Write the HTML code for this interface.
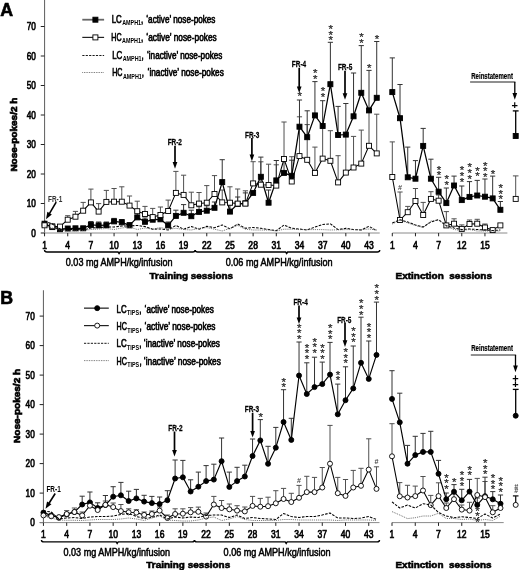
<!DOCTYPE html>
<html><head><meta charset="utf-8"><title>Figure</title>
<style>html,body{margin:0;padding:0;background:#fff}svg{display:block;will-change:transform;opacity:0.999}</style></head><body>
<svg width="520" height="570" viewBox="0 0 520 570" font-family="'Liberation Sans', sans-serif">
<rect width="520" height="570" fill="#fff"/>
<line x1="44.55" y1="0.00" x2="44.55" y2="233.50" stroke="#6a6a6a" stroke-width="1.1" />
<line x1="40.75" y1="233.00" x2="44.55" y2="233.00" stroke="#222" stroke-width="1.0" />
<text transform="translate(35.85,236.75) scale(0.73,1)" font-size="11.3" font-weight="normal" text-anchor="end" fill="#000" stroke="#000" stroke-width="0.7">0</text>
<line x1="40.75" y1="203.50" x2="44.55" y2="203.50" stroke="#222" stroke-width="1.0" />
<text transform="translate(35.85,207.25) scale(0.73,1)" font-size="11.3" font-weight="normal" text-anchor="end" fill="#000" stroke="#000" stroke-width="0.7">10</text>
<line x1="40.75" y1="174.00" x2="44.55" y2="174.00" stroke="#222" stroke-width="1.0" />
<text transform="translate(35.85,177.75) scale(0.73,1)" font-size="11.3" font-weight="normal" text-anchor="end" fill="#000" stroke="#000" stroke-width="0.7">20</text>
<line x1="40.75" y1="144.50" x2="44.55" y2="144.50" stroke="#222" stroke-width="1.0" />
<text transform="translate(35.85,148.25) scale(0.73,1)" font-size="11.3" font-weight="normal" text-anchor="end" fill="#000" stroke="#000" stroke-width="0.7">30</text>
<line x1="40.75" y1="115.00" x2="44.55" y2="115.00" stroke="#222" stroke-width="1.0" />
<text transform="translate(35.85,118.75) scale(0.73,1)" font-size="11.3" font-weight="normal" text-anchor="end" fill="#000" stroke="#000" stroke-width="0.7">40</text>
<line x1="40.75" y1="85.50" x2="44.55" y2="85.50" stroke="#222" stroke-width="1.0" />
<text transform="translate(35.85,89.25) scale(0.73,1)" font-size="11.3" font-weight="normal" text-anchor="end" fill="#000" stroke="#000" stroke-width="0.7">50</text>
<line x1="40.75" y1="56.00" x2="44.55" y2="56.00" stroke="#222" stroke-width="1.0" />
<text transform="translate(35.85,59.75) scale(0.73,1)" font-size="11.3" font-weight="normal" text-anchor="end" fill="#000" stroke="#000" stroke-width="0.7">60</text>
<line x1="40.75" y1="26.50" x2="44.55" y2="26.50" stroke="#222" stroke-width="1.0" />
<text transform="translate(35.85,30.25) scale(0.73,1)" font-size="11.3" font-weight="normal" text-anchor="end" fill="#000" stroke="#000" stroke-width="0.7">70</text>
<line x1="41.15" y1="233.00" x2="379.73" y2="233.00" stroke="#8a8a8a" stroke-width="1.0" />
<line x1="392.30" y1="233.00" x2="507.38" y2="233.00" stroke="#8a8a8a" stroke-width="1.0" />
<line x1="44.55" y1="233.00" x2="44.55" y2="236.30" stroke="#222" stroke-width="1.0" />
<text transform="translate(44.55,248.50) scale(0.76,1)" font-size="11.3" font-weight="normal" text-anchor="middle" fill="#000" stroke="#000" stroke-width="0.7">1</text>
<line x1="67.72" y1="233.00" x2="67.72" y2="236.30" stroke="#222" stroke-width="1.0" />
<text transform="translate(67.72,248.50) scale(0.76,1)" font-size="11.3" font-weight="normal" text-anchor="middle" fill="#000" stroke="#000" stroke-width="0.7">4</text>
<line x1="90.90" y1="233.00" x2="90.90" y2="236.30" stroke="#222" stroke-width="1.0" />
<text transform="translate(90.90,248.50) scale(0.76,1)" font-size="11.3" font-weight="normal" text-anchor="middle" fill="#000" stroke="#000" stroke-width="0.7">7</text>
<line x1="114.07" y1="233.00" x2="114.07" y2="236.30" stroke="#222" stroke-width="1.0" />
<text transform="translate(114.07,248.50) scale(0.76,1)" font-size="11.3" font-weight="normal" text-anchor="middle" fill="#000" stroke="#000" stroke-width="0.7">10</text>
<line x1="137.25" y1="233.00" x2="137.25" y2="236.30" stroke="#222" stroke-width="1.0" />
<text transform="translate(137.25,248.50) scale(0.76,1)" font-size="11.3" font-weight="normal" text-anchor="middle" fill="#000" stroke="#000" stroke-width="0.7">13</text>
<line x1="160.43" y1="233.00" x2="160.43" y2="236.30" stroke="#222" stroke-width="1.0" />
<text transform="translate(160.43,248.50) scale(0.76,1)" font-size="11.3" font-weight="normal" text-anchor="middle" fill="#000" stroke="#000" stroke-width="0.7">16</text>
<line x1="183.60" y1="233.00" x2="183.60" y2="236.30" stroke="#222" stroke-width="1.0" />
<text transform="translate(183.60,248.50) scale(0.76,1)" font-size="11.3" font-weight="normal" text-anchor="middle" fill="#000" stroke="#000" stroke-width="0.7">19</text>
<line x1="206.77" y1="233.00" x2="206.77" y2="236.30" stroke="#222" stroke-width="1.0" />
<text transform="translate(206.77,248.50) scale(0.76,1)" font-size="11.3" font-weight="normal" text-anchor="middle" fill="#000" stroke="#000" stroke-width="0.7">22</text>
<line x1="229.95" y1="233.00" x2="229.95" y2="236.30" stroke="#222" stroke-width="1.0" />
<text transform="translate(229.95,248.50) scale(0.76,1)" font-size="11.3" font-weight="normal" text-anchor="middle" fill="#000" stroke="#000" stroke-width="0.7">25</text>
<line x1="253.12" y1="233.00" x2="253.12" y2="236.30" stroke="#222" stroke-width="1.0" />
<text transform="translate(253.12,248.50) scale(0.76,1)" font-size="11.3" font-weight="normal" text-anchor="middle" fill="#000" stroke="#000" stroke-width="0.7">28</text>
<line x1="276.30" y1="233.00" x2="276.30" y2="236.30" stroke="#222" stroke-width="1.0" />
<text transform="translate(276.30,248.50) scale(0.76,1)" font-size="11.3" font-weight="normal" text-anchor="middle" fill="#000" stroke="#000" stroke-width="0.7">31</text>
<line x1="299.47" y1="233.00" x2="299.47" y2="236.30" stroke="#222" stroke-width="1.0" />
<text transform="translate(299.47,248.50) scale(0.76,1)" font-size="11.3" font-weight="normal" text-anchor="middle" fill="#000" stroke="#000" stroke-width="0.7">34</text>
<line x1="322.65" y1="233.00" x2="322.65" y2="236.30" stroke="#222" stroke-width="1.0" />
<text transform="translate(322.65,248.50) scale(0.76,1)" font-size="11.3" font-weight="normal" text-anchor="middle" fill="#000" stroke="#000" stroke-width="0.7">37</text>
<line x1="345.82" y1="233.00" x2="345.82" y2="236.30" stroke="#222" stroke-width="1.0" />
<text transform="translate(345.82,248.50) scale(0.76,1)" font-size="11.3" font-weight="normal" text-anchor="middle" fill="#000" stroke="#000" stroke-width="0.7">40</text>
<line x1="369.00" y1="233.00" x2="369.00" y2="236.30" stroke="#222" stroke-width="1.0" />
<text transform="translate(369.00,248.50) scale(0.76,1)" font-size="11.3" font-weight="normal" text-anchor="middle" fill="#000" stroke="#000" stroke-width="0.7">43</text>
<line x1="392.30" y1="233.00" x2="392.30" y2="236.30" stroke="#222" stroke-width="1.0" />
<text transform="translate(392.30,248.50) scale(0.76,1)" font-size="11.3" font-weight="normal" text-anchor="middle" fill="#000" stroke="#000" stroke-width="0.7">1</text>
<line x1="415.46" y1="233.00" x2="415.46" y2="236.30" stroke="#222" stroke-width="1.0" />
<text transform="translate(415.46,248.50) scale(0.76,1)" font-size="11.3" font-weight="normal" text-anchor="middle" fill="#000" stroke="#000" stroke-width="0.7">4</text>
<line x1="438.62" y1="233.00" x2="438.62" y2="236.30" stroke="#222" stroke-width="1.0" />
<text transform="translate(438.62,248.50) scale(0.76,1)" font-size="11.3" font-weight="normal" text-anchor="middle" fill="#000" stroke="#000" stroke-width="0.7">7</text>
<line x1="461.78" y1="233.00" x2="461.78" y2="236.30" stroke="#222" stroke-width="1.0" />
<text transform="translate(461.78,248.50) scale(0.76,1)" font-size="11.3" font-weight="normal" text-anchor="middle" fill="#000" stroke="#000" stroke-width="0.7">12</text>
<line x1="484.94" y1="233.00" x2="484.94" y2="236.30" stroke="#222" stroke-width="1.0" />
<text transform="translate(484.94,248.50) scale(0.76,1)" font-size="11.3" font-weight="normal" text-anchor="middle" fill="#000" stroke="#000" stroke-width="0.7">15</text>
<path d="M44.55,250.00 Q44.55,252.00 47.05,252.00 L118.07,252.00 L119.07,253.50 L120.07,252.00 L192.69,252.00 Q195.19,252.00 195.19,250.00" fill="none" stroke="#000" stroke-width="1.4"/>
<path d="M195.19,250.00 Q195.19,252.00 197.69,252.00 L285.66,252.00 L286.66,253.50 L287.66,252.00 L377.23,252.00 Q379.73,252.00 379.73,250.00" fill="none" stroke="#000" stroke-width="1.4"/>
<text transform="translate(65.80,265.90) scale(0.8805601317957167,1)" font-size="10.3" font-weight="normal" text-anchor="start" fill="#000" stroke="#000" stroke-width="0.5">0.03 mg AMPH/kg/infusion</text>
<text transform="translate(225.70,265.90) scale(0.8822075782537067,1)" font-size="10.3" font-weight="normal" text-anchor="start" fill="#000" stroke="#000" stroke-width="0.5">0.06 mg AMPH/kg/infusion</text>
<text transform="translate(149.60,278.60) scale(1.1220234091214853,1)" font-size="8.8" font-weight="bold" text-anchor="start" fill="#000" stroke="#000" stroke-width="0.55">Training sessions</text>
<text transform="translate(395.50,278.60) scale(1.1352685391937947,1)" font-size="8.8" font-weight="bold" text-anchor="start" fill="#000" stroke="#000" stroke-width="0.55">Extinction&#160; sessions</text>
<text transform="translate(16.90,134.60) rotate(-90) scale(1.14,1)" font-size="8.8" font-weight="bold" text-anchor="middle" fill="#000" stroke="#000" stroke-width="0.65">Nose-pokes/2 h</text>
<text transform="translate(0.30,15.50) scale(1.0,1)" font-size="17.8" font-weight="bold" text-anchor="start" fill="#000" stroke="#000" stroke-width="0.6">A</text>
<line x1="67.72" y1="219.70" x2="67.72" y2="215.70" stroke="#505050" stroke-width="1.0" />
<line x1="65.12" y1="215.70" x2="70.32" y2="215.70" stroke="#505050" stroke-width="1.0" />
<line x1="75.45" y1="216.70" x2="75.45" y2="211.40" stroke="#505050" stroke-width="1.0" />
<line x1="72.85" y1="211.40" x2="78.05" y2="211.40" stroke="#505050" stroke-width="1.0" />
<line x1="83.17" y1="210.70" x2="83.17" y2="202.40" stroke="#505050" stroke-width="1.0" />
<line x1="80.58" y1="202.40" x2="85.77" y2="202.40" stroke="#505050" stroke-width="1.0" />
<line x1="90.90" y1="202.40" x2="90.90" y2="189.10" stroke="#505050" stroke-width="1.0" />
<line x1="88.30" y1="189.10" x2="93.50" y2="189.10" stroke="#505050" stroke-width="1.0" />
<line x1="98.62" y1="211.60" x2="98.62" y2="203.60" stroke="#505050" stroke-width="1.0" />
<line x1="96.03" y1="203.60" x2="101.22" y2="203.60" stroke="#505050" stroke-width="1.0" />
<line x1="106.35" y1="201.90" x2="106.35" y2="190.40" stroke="#505050" stroke-width="1.0" />
<line x1="103.75" y1="190.40" x2="108.95" y2="190.40" stroke="#505050" stroke-width="1.0" />
<line x1="114.07" y1="201.70" x2="114.07" y2="188.50" stroke="#505050" stroke-width="1.0" />
<line x1="111.47" y1="188.50" x2="116.67" y2="188.50" stroke="#505050" stroke-width="1.0" />
<line x1="121.80" y1="201.70" x2="121.80" y2="186.80" stroke="#505050" stroke-width="1.0" />
<line x1="119.20" y1="186.80" x2="124.40" y2="186.80" stroke="#505050" stroke-width="1.0" />
<line x1="129.52" y1="205.60" x2="129.52" y2="196.00" stroke="#505050" stroke-width="1.0" />
<line x1="126.92" y1="196.00" x2="132.12" y2="196.00" stroke="#505050" stroke-width="1.0" />
<line x1="137.25" y1="211.20" x2="137.25" y2="201.20" stroke="#505050" stroke-width="1.0" />
<line x1="134.65" y1="201.20" x2="139.85" y2="201.20" stroke="#505050" stroke-width="1.0" />
<line x1="144.97" y1="214.00" x2="144.97" y2="206.40" stroke="#505050" stroke-width="1.0" />
<line x1="142.38" y1="206.40" x2="147.57" y2="206.40" stroke="#505050" stroke-width="1.0" />
<line x1="152.70" y1="217.10" x2="152.70" y2="208.40" stroke="#505050" stroke-width="1.0" />
<line x1="150.10" y1="208.40" x2="155.30" y2="208.40" stroke="#505050" stroke-width="1.0" />
<line x1="160.43" y1="215.00" x2="160.43" y2="207.00" stroke="#505050" stroke-width="1.0" />
<line x1="157.83" y1="207.00" x2="163.03" y2="207.00" stroke="#505050" stroke-width="1.0" />
<line x1="168.15" y1="211.00" x2="168.15" y2="200.10" stroke="#505050" stroke-width="1.0" />
<line x1="165.55" y1="200.10" x2="170.75" y2="200.10" stroke="#505050" stroke-width="1.0" />
<line x1="175.88" y1="192.90" x2="175.88" y2="171.40" stroke="#505050" stroke-width="1.0" />
<line x1="173.28" y1="171.40" x2="178.47" y2="171.40" stroke="#505050" stroke-width="1.0" />
<line x1="183.60" y1="194.90" x2="183.60" y2="175.20" stroke="#505050" stroke-width="1.0" />
<line x1="181.00" y1="175.20" x2="186.20" y2="175.20" stroke="#505050" stroke-width="1.0" />
<line x1="191.32" y1="205.30" x2="191.32" y2="192.20" stroke="#505050" stroke-width="1.0" />
<line x1="188.72" y1="192.20" x2="193.92" y2="192.20" stroke="#505050" stroke-width="1.0" />
<line x1="199.05" y1="203.60" x2="199.05" y2="192.50" stroke="#505050" stroke-width="1.0" />
<line x1="196.45" y1="192.50" x2="201.65" y2="192.50" stroke="#505050" stroke-width="1.0" />
<line x1="206.77" y1="202.70" x2="206.77" y2="185.60" stroke="#505050" stroke-width="1.0" />
<line x1="204.17" y1="185.60" x2="209.37" y2="185.60" stroke="#505050" stroke-width="1.0" />
<line x1="214.50" y1="194.00" x2="214.50" y2="175.60" stroke="#505050" stroke-width="1.0" />
<line x1="211.90" y1="175.60" x2="217.10" y2="175.60" stroke="#505050" stroke-width="1.0" />
<line x1="222.22" y1="202.40" x2="222.22" y2="190.00" stroke="#505050" stroke-width="1.0" />
<line x1="219.62" y1="190.00" x2="224.82" y2="190.00" stroke="#505050" stroke-width="1.0" />
<line x1="229.95" y1="202.70" x2="229.95" y2="186.80" stroke="#505050" stroke-width="1.0" />
<line x1="227.35" y1="186.80" x2="232.55" y2="186.80" stroke="#505050" stroke-width="1.0" />
<line x1="237.68" y1="203.60" x2="237.68" y2="189.00" stroke="#505050" stroke-width="1.0" />
<line x1="235.08" y1="189.00" x2="240.28" y2="189.00" stroke="#505050" stroke-width="1.0" />
<line x1="245.40" y1="203.60" x2="245.40" y2="190.80" stroke="#505050" stroke-width="1.0" />
<line x1="242.80" y1="190.80" x2="248.00" y2="190.80" stroke="#505050" stroke-width="1.0" />
<line x1="253.12" y1="183.40" x2="253.12" y2="161.70" stroke="#505050" stroke-width="1.0" />
<line x1="250.53" y1="161.70" x2="255.72" y2="161.70" stroke="#505050" stroke-width="1.0" />
<line x1="260.85" y1="184.70" x2="260.85" y2="161.80" stroke="#505050" stroke-width="1.0" />
<line x1="258.25" y1="161.80" x2="263.45" y2="161.80" stroke="#505050" stroke-width="1.0" />
<line x1="268.57" y1="185.00" x2="268.57" y2="164.20" stroke="#505050" stroke-width="1.0" />
<line x1="265.97" y1="164.20" x2="271.18" y2="164.20" stroke="#505050" stroke-width="1.0" />
<line x1="276.30" y1="185.60" x2="276.30" y2="164.80" stroke="#505050" stroke-width="1.0" />
<line x1="273.70" y1="164.80" x2="278.90" y2="164.80" stroke="#505050" stroke-width="1.0" />
<line x1="284.02" y1="159.00" x2="284.02" y2="122.00" stroke="#505050" stroke-width="1.0" />
<line x1="281.42" y1="122.00" x2="286.62" y2="122.00" stroke="#505050" stroke-width="1.0" />
<line x1="291.75" y1="181.50" x2="291.75" y2="156.70" stroke="#505050" stroke-width="1.0" />
<line x1="289.15" y1="156.70" x2="294.35" y2="156.70" stroke="#505050" stroke-width="1.0" />
<line x1="299.47" y1="156.10" x2="299.47" y2="116.80" stroke="#505050" stroke-width="1.0" />
<line x1="296.87" y1="116.80" x2="302.07" y2="116.80" stroke="#505050" stroke-width="1.0" />
<line x1="307.20" y1="159.80" x2="307.20" y2="124.60" stroke="#505050" stroke-width="1.0" />
<line x1="304.60" y1="124.60" x2="309.80" y2="124.60" stroke="#505050" stroke-width="1.0" />
<line x1="314.93" y1="172.90" x2="314.93" y2="147.10" stroke="#505050" stroke-width="1.0" />
<line x1="312.32" y1="147.10" x2="317.53" y2="147.10" stroke="#505050" stroke-width="1.0" />
<line x1="322.65" y1="158.60" x2="322.65" y2="126.00" stroke="#505050" stroke-width="1.0" />
<line x1="320.05" y1="126.00" x2="325.25" y2="126.00" stroke="#505050" stroke-width="1.0" />
<line x1="330.38" y1="160.80" x2="330.38" y2="130.70" stroke="#505050" stroke-width="1.0" />
<line x1="327.77" y1="130.70" x2="332.98" y2="130.70" stroke="#505050" stroke-width="1.0" />
<line x1="338.10" y1="182.40" x2="338.10" y2="155.70" stroke="#505050" stroke-width="1.0" />
<line x1="335.50" y1="155.70" x2="340.70" y2="155.70" stroke="#505050" stroke-width="1.0" />
<line x1="345.82" y1="172.60" x2="345.82" y2="134.00" stroke="#505050" stroke-width="1.0" />
<line x1="343.22" y1="134.00" x2="348.43" y2="134.00" stroke="#505050" stroke-width="1.0" />
<line x1="353.55" y1="167.50" x2="353.55" y2="136.40" stroke="#505050" stroke-width="1.0" />
<line x1="350.95" y1="136.40" x2="356.15" y2="136.40" stroke="#505050" stroke-width="1.0" />
<line x1="361.27" y1="163.60" x2="361.27" y2="130.10" stroke="#505050" stroke-width="1.0" />
<line x1="358.67" y1="130.10" x2="363.88" y2="130.10" stroke="#505050" stroke-width="1.0" />
<line x1="369.00" y1="145.80" x2="369.00" y2="112.00" stroke="#505050" stroke-width="1.0" />
<line x1="366.40" y1="112.00" x2="371.60" y2="112.00" stroke="#505050" stroke-width="1.0" />
<line x1="376.73" y1="153.40" x2="376.73" y2="114.20" stroke="#505050" stroke-width="1.0" />
<line x1="374.12" y1="114.20" x2="379.33" y2="114.20" stroke="#505050" stroke-width="1.0" />
<line x1="392.30" y1="177.00" x2="392.30" y2="141.90" stroke="#505050" stroke-width="1.0" />
<line x1="389.70" y1="141.90" x2="394.90" y2="141.90" stroke="#505050" stroke-width="1.0" />
<line x1="400.02" y1="220.00" x2="400.02" y2="192.00" stroke="#505050" stroke-width="1.0" />
<line x1="397.42" y1="192.00" x2="402.62" y2="192.00" stroke="#505050" stroke-width="1.0" />
<line x1="407.74" y1="212.20" x2="407.74" y2="206.40" stroke="#505050" stroke-width="1.0" />
<line x1="405.14" y1="206.40" x2="410.34" y2="206.40" stroke="#505050" stroke-width="1.0" />
<line x1="415.46" y1="201.00" x2="415.46" y2="188.50" stroke="#505050" stroke-width="1.0" />
<line x1="412.86" y1="188.50" x2="418.06" y2="188.50" stroke="#505050" stroke-width="1.0" />
<line x1="423.18" y1="215.00" x2="423.18" y2="202.40" stroke="#505050" stroke-width="1.0" />
<line x1="420.58" y1="202.40" x2="425.78" y2="202.40" stroke="#505050" stroke-width="1.0" />
<line x1="430.90" y1="198.90" x2="430.90" y2="191.70" stroke="#505050" stroke-width="1.0" />
<line x1="428.30" y1="191.70" x2="433.50" y2="191.70" stroke="#505050" stroke-width="1.0" />
<line x1="438.62" y1="200.70" x2="438.62" y2="195.00" stroke="#505050" stroke-width="1.0" />
<line x1="436.02" y1="195.00" x2="441.22" y2="195.00" stroke="#505050" stroke-width="1.0" />
<line x1="446.34" y1="225.40" x2="446.34" y2="211.60" stroke="#505050" stroke-width="1.0" />
<line x1="443.74" y1="211.60" x2="448.94" y2="211.60" stroke="#505050" stroke-width="1.0" />
<line x1="454.06" y1="223.70" x2="454.06" y2="218.80" stroke="#505050" stroke-width="1.0" />
<line x1="451.46" y1="218.80" x2="456.66" y2="218.80" stroke="#505050" stroke-width="1.0" />
<line x1="461.78" y1="228.90" x2="461.78" y2="224.90" stroke="#505050" stroke-width="1.0" />
<line x1="459.18" y1="224.90" x2="464.38" y2="224.90" stroke="#505050" stroke-width="1.0" />
<line x1="469.50" y1="224.00" x2="469.50" y2="220.00" stroke="#505050" stroke-width="1.0" />
<line x1="466.90" y1="220.00" x2="472.10" y2="220.00" stroke="#505050" stroke-width="1.0" />
<line x1="477.22" y1="223.70" x2="477.22" y2="219.30" stroke="#505050" stroke-width="1.0" />
<line x1="474.62" y1="219.30" x2="479.82" y2="219.30" stroke="#505050" stroke-width="1.0" />
<line x1="484.94" y1="227.50" x2="484.94" y2="224.00" stroke="#505050" stroke-width="1.0" />
<line x1="482.34" y1="224.00" x2="487.54" y2="224.00" stroke="#505050" stroke-width="1.0" />
<line x1="515.70" y1="198.90" x2="515.70" y2="175.90" stroke="#505050" stroke-width="1.0" />
<line x1="512.90" y1="175.90" x2="518.50" y2="175.90" stroke="#505050" stroke-width="1.0" />
<line x1="90.90" y1="224.90" x2="90.90" y2="221.50" stroke="#333" stroke-width="1.0" />
<line x1="88.30" y1="221.50" x2="93.50" y2="221.50" stroke="#333" stroke-width="1.0" />
<line x1="98.62" y1="225.40" x2="98.62" y2="222.00" stroke="#333" stroke-width="1.0" />
<line x1="96.03" y1="222.00" x2="101.22" y2="222.00" stroke="#333" stroke-width="1.0" />
<line x1="106.35" y1="225.20" x2="106.35" y2="222.00" stroke="#333" stroke-width="1.0" />
<line x1="103.75" y1="222.00" x2="108.95" y2="222.00" stroke="#333" stroke-width="1.0" />
<line x1="114.07" y1="221.40" x2="114.07" y2="218.40" stroke="#333" stroke-width="1.0" />
<line x1="111.47" y1="218.40" x2="116.67" y2="218.40" stroke="#333" stroke-width="1.0" />
<line x1="121.80" y1="222.30" x2="121.80" y2="219.50" stroke="#333" stroke-width="1.0" />
<line x1="119.20" y1="219.50" x2="124.40" y2="219.50" stroke="#333" stroke-width="1.0" />
<line x1="129.52" y1="225.40" x2="129.52" y2="222.50" stroke="#333" stroke-width="1.0" />
<line x1="126.92" y1="222.50" x2="132.12" y2="222.50" stroke="#333" stroke-width="1.0" />
<line x1="137.25" y1="217.40" x2="137.25" y2="212.00" stroke="#333" stroke-width="1.0" />
<line x1="134.65" y1="212.00" x2="139.85" y2="212.00" stroke="#333" stroke-width="1.0" />
<line x1="144.97" y1="221.80" x2="144.97" y2="218.00" stroke="#333" stroke-width="1.0" />
<line x1="142.38" y1="218.00" x2="147.57" y2="218.00" stroke="#333" stroke-width="1.0" />
<line x1="152.70" y1="219.70" x2="152.70" y2="216.00" stroke="#333" stroke-width="1.0" />
<line x1="150.10" y1="216.00" x2="155.30" y2="216.00" stroke="#333" stroke-width="1.0" />
<line x1="160.43" y1="219.30" x2="160.43" y2="216.00" stroke="#333" stroke-width="1.0" />
<line x1="157.83" y1="216.00" x2="163.03" y2="216.00" stroke="#333" stroke-width="1.0" />
<line x1="168.15" y1="225.40" x2="168.15" y2="222.00" stroke="#333" stroke-width="1.0" />
<line x1="165.55" y1="222.00" x2="170.75" y2="222.00" stroke="#333" stroke-width="1.0" />
<line x1="175.88" y1="215.90" x2="175.88" y2="210.20" stroke="#333" stroke-width="1.0" />
<line x1="173.28" y1="210.20" x2="178.47" y2="210.20" stroke="#333" stroke-width="1.0" />
<line x1="183.60" y1="212.80" x2="183.60" y2="204.60" stroke="#333" stroke-width="1.0" />
<line x1="181.00" y1="204.60" x2="186.20" y2="204.60" stroke="#333" stroke-width="1.0" />
<line x1="191.32" y1="216.20" x2="191.32" y2="210.20" stroke="#333" stroke-width="1.0" />
<line x1="188.72" y1="210.20" x2="193.92" y2="210.20" stroke="#333" stroke-width="1.0" />
<line x1="199.05" y1="211.90" x2="199.05" y2="206.70" stroke="#333" stroke-width="1.0" />
<line x1="196.45" y1="206.70" x2="201.65" y2="206.70" stroke="#333" stroke-width="1.0" />
<line x1="206.77" y1="210.70" x2="206.77" y2="205.80" stroke="#333" stroke-width="1.0" />
<line x1="204.17" y1="205.80" x2="209.37" y2="205.80" stroke="#333" stroke-width="1.0" />
<line x1="214.50" y1="207.80" x2="214.50" y2="202.00" stroke="#333" stroke-width="1.0" />
<line x1="211.90" y1="202.00" x2="217.10" y2="202.00" stroke="#333" stroke-width="1.0" />
<line x1="222.22" y1="182.10" x2="222.22" y2="159.70" stroke="#333" stroke-width="1.0" />
<line x1="219.62" y1="159.70" x2="224.82" y2="159.70" stroke="#333" stroke-width="1.0" />
<line x1="229.95" y1="211.60" x2="229.95" y2="205.00" stroke="#333" stroke-width="1.0" />
<line x1="227.35" y1="205.00" x2="232.55" y2="205.00" stroke="#333" stroke-width="1.0" />
<line x1="237.68" y1="204.00" x2="237.68" y2="197.00" stroke="#333" stroke-width="1.0" />
<line x1="235.08" y1="197.00" x2="240.28" y2="197.00" stroke="#333" stroke-width="1.0" />
<line x1="245.40" y1="203.30" x2="245.40" y2="192.90" stroke="#333" stroke-width="1.0" />
<line x1="242.80" y1="192.90" x2="248.00" y2="192.90" stroke="#333" stroke-width="1.0" />
<line x1="260.85" y1="176.80" x2="260.85" y2="157.10" stroke="#333" stroke-width="1.0" />
<line x1="258.25" y1="157.10" x2="263.45" y2="157.10" stroke="#333" stroke-width="1.0" />
<line x1="268.57" y1="202.70" x2="268.57" y2="190.00" stroke="#333" stroke-width="1.0" />
<line x1="265.97" y1="190.00" x2="271.18" y2="190.00" stroke="#333" stroke-width="1.0" />
<line x1="276.30" y1="180.40" x2="276.30" y2="160.50" stroke="#333" stroke-width="1.0" />
<line x1="273.70" y1="160.50" x2="278.90" y2="160.50" stroke="#333" stroke-width="1.0" />
<line x1="284.02" y1="172.90" x2="284.02" y2="160.00" stroke="#333" stroke-width="1.0" />
<line x1="281.42" y1="160.00" x2="286.62" y2="160.00" stroke="#333" stroke-width="1.0" />
<line x1="291.75" y1="175.80" x2="291.75" y2="160.20" stroke="#333" stroke-width="1.0" />
<line x1="289.15" y1="160.20" x2="294.35" y2="160.20" stroke="#333" stroke-width="1.0" />
<line x1="299.47" y1="126.70" x2="299.47" y2="100.00" stroke="#333" stroke-width="1.0" />
<line x1="296.87" y1="100.00" x2="302.07" y2="100.00" stroke="#333" stroke-width="1.0" />
<line x1="307.20" y1="137.20" x2="307.20" y2="110.80" stroke="#333" stroke-width="1.0" />
<line x1="304.60" y1="110.80" x2="309.80" y2="110.80" stroke="#333" stroke-width="1.0" />
<line x1="314.93" y1="115.40" x2="314.93" y2="81.60" stroke="#333" stroke-width="1.0" />
<line x1="312.32" y1="81.60" x2="317.53" y2="81.60" stroke="#333" stroke-width="1.0" />
<line x1="322.65" y1="126.00" x2="322.65" y2="100.70" stroke="#333" stroke-width="1.0" />
<line x1="320.05" y1="100.70" x2="325.25" y2="100.70" stroke="#333" stroke-width="1.0" />
<line x1="330.38" y1="84.20" x2="330.38" y2="42.30" stroke="#333" stroke-width="1.0" />
<line x1="327.77" y1="42.30" x2="332.98" y2="42.30" stroke="#333" stroke-width="1.0" />
<line x1="338.10" y1="135.00" x2="338.10" y2="106.40" stroke="#333" stroke-width="1.0" />
<line x1="335.50" y1="106.40" x2="340.70" y2="106.40" stroke="#333" stroke-width="1.0" />
<line x1="345.82" y1="134.60" x2="345.82" y2="103.50" stroke="#333" stroke-width="1.0" />
<line x1="343.22" y1="103.50" x2="348.43" y2="103.50" stroke="#333" stroke-width="1.0" />
<line x1="353.55" y1="116.30" x2="353.55" y2="73.00" stroke="#333" stroke-width="1.0" />
<line x1="350.95" y1="73.00" x2="356.15" y2="73.00" stroke="#333" stroke-width="1.0" />
<line x1="361.27" y1="92.80" x2="361.27" y2="45.60" stroke="#333" stroke-width="1.0" />
<line x1="358.67" y1="45.60" x2="363.88" y2="45.60" stroke="#333" stroke-width="1.0" />
<line x1="369.00" y1="110.40" x2="369.00" y2="70.40" stroke="#333" stroke-width="1.0" />
<line x1="366.40" y1="70.40" x2="371.60" y2="70.40" stroke="#333" stroke-width="1.0" />
<line x1="376.73" y1="97.80" x2="376.73" y2="41.50" stroke="#333" stroke-width="1.0" />
<line x1="374.12" y1="41.50" x2="379.33" y2="41.50" stroke="#333" stroke-width="1.0" />
<line x1="392.30" y1="92.10" x2="392.30" y2="57.90" stroke="#333" stroke-width="1.0" />
<line x1="389.70" y1="57.90" x2="394.90" y2="57.90" stroke="#333" stroke-width="1.0" />
<line x1="400.02" y1="118.20" x2="400.02" y2="84.50" stroke="#333" stroke-width="1.0" />
<line x1="397.42" y1="84.50" x2="402.62" y2="84.50" stroke="#333" stroke-width="1.0" />
<line x1="407.74" y1="177.30" x2="407.74" y2="147.10" stroke="#333" stroke-width="1.0" />
<line x1="405.14" y1="147.10" x2="410.34" y2="147.10" stroke="#333" stroke-width="1.0" />
<line x1="415.46" y1="178.70" x2="415.46" y2="160.60" stroke="#333" stroke-width="1.0" />
<line x1="412.86" y1="160.60" x2="418.06" y2="160.60" stroke="#333" stroke-width="1.0" />
<line x1="423.18" y1="145.90" x2="423.18" y2="128.40" stroke="#333" stroke-width="1.0" />
<line x1="420.58" y1="128.40" x2="425.78" y2="128.40" stroke="#333" stroke-width="1.0" />
<line x1="430.90" y1="178.70" x2="430.90" y2="159.20" stroke="#333" stroke-width="1.0" />
<line x1="428.30" y1="159.20" x2="433.50" y2="159.20" stroke="#333" stroke-width="1.0" />
<line x1="438.62" y1="191.70" x2="438.62" y2="177.30" stroke="#333" stroke-width="1.0" />
<line x1="436.02" y1="177.30" x2="441.22" y2="177.30" stroke="#333" stroke-width="1.0" />
<line x1="446.34" y1="203.10" x2="446.34" y2="188.00" stroke="#333" stroke-width="1.0" />
<line x1="443.74" y1="188.00" x2="448.94" y2="188.00" stroke="#333" stroke-width="1.0" />
<line x1="454.06" y1="185.50" x2="454.06" y2="176.10" stroke="#333" stroke-width="1.0" />
<line x1="451.46" y1="176.10" x2="456.66" y2="176.10" stroke="#333" stroke-width="1.0" />
<line x1="461.78" y1="200.10" x2="461.78" y2="186.00" stroke="#333" stroke-width="1.0" />
<line x1="459.18" y1="186.00" x2="464.38" y2="186.00" stroke="#333" stroke-width="1.0" />
<line x1="469.50" y1="196.90" x2="469.50" y2="181.60" stroke="#333" stroke-width="1.0" />
<line x1="466.90" y1="181.60" x2="472.10" y2="181.60" stroke="#333" stroke-width="1.0" />
<line x1="477.22" y1="195.50" x2="477.22" y2="180.40" stroke="#333" stroke-width="1.0" />
<line x1="474.62" y1="180.40" x2="479.82" y2="180.40" stroke="#333" stroke-width="1.0" />
<line x1="484.94" y1="196.70" x2="484.94" y2="179.00" stroke="#333" stroke-width="1.0" />
<line x1="482.34" y1="179.00" x2="487.54" y2="179.00" stroke="#333" stroke-width="1.0" />
<line x1="492.66" y1="198.40" x2="492.66" y2="176.10" stroke="#333" stroke-width="1.0" />
<line x1="490.06" y1="176.10" x2="495.26" y2="176.10" stroke="#333" stroke-width="1.0" />
<line x1="500.38" y1="209.80" x2="500.38" y2="201.50" stroke="#333" stroke-width="1.0" />
<line x1="497.78" y1="201.50" x2="502.98" y2="201.50" stroke="#333" stroke-width="1.0" />
<line x1="515.70" y1="136.00" x2="515.70" y2="110.90" stroke="#000" stroke-width="1.3" />
<line x1="512.80" y1="110.90" x2="518.60" y2="110.90" stroke="#000" stroke-width="1.3" />
<polyline points="44.55,225.30 52.27,226.30 60.00,226.60 67.72,219.70 75.45,216.70 83.17,210.70 90.90,202.40 98.62,211.60 106.35,201.90 114.07,201.70 121.80,201.70 129.52,205.60 137.25,211.20 144.97,214.00 152.70,217.10 160.43,215.00 168.15,211.00 175.88,192.90 183.60,194.90 191.32,205.30 199.05,203.60 206.77,202.70 214.50,194.00 222.22,202.40 229.95,202.70 237.68,203.60 245.40,203.60 253.12,183.40 260.85,184.70 268.57,185.00 276.30,185.60 284.02,159.00 291.75,181.50 299.47,156.10 307.20,159.80 314.93,172.90 322.65,158.60 330.38,160.80 338.10,182.40 345.82,172.60 353.55,167.50 361.27,163.60 369.00,145.80 376.73,153.40" fill="none" stroke="#000" stroke-width="1.05" stroke-linejoin="round" />
<polyline points="392.30,177.00 400.02,220.00 407.74,212.20 415.46,201.00 423.18,215.00 430.90,198.90 438.62,200.70 446.34,225.40 454.06,223.70 461.78,228.90 469.50,224.00 477.22,223.70 484.94,227.50 492.66,230.10 500.38,225.40" fill="none" stroke="#000" stroke-width="1.05" stroke-linejoin="round" />
<polyline points="44.55,223.70 52.27,227.10 60.00,229.20 67.72,228.50 75.45,228.30 83.17,228.30 90.90,224.90 98.62,225.40 106.35,225.20 114.07,221.40 121.80,222.30 129.52,225.40 137.25,217.40 144.97,221.80 152.70,219.70 160.43,219.30 168.15,225.40 175.88,215.90 183.60,212.80 191.32,216.20 199.05,211.90 206.77,210.70 214.50,207.80 222.22,182.10 229.95,211.60 237.68,204.00 245.40,203.30 253.12,192.90 260.85,176.80 268.57,202.70 276.30,180.40 284.02,172.90 291.75,175.80 299.47,126.70 307.20,137.20 314.93,115.40 322.65,126.00 330.38,84.20 338.10,135.00 345.82,134.60 353.55,116.30 361.27,92.80 369.00,110.40 376.73,97.80" fill="none" stroke="#000" stroke-width="1.25" stroke-linejoin="round" />
<polyline points="392.30,92.10 400.02,118.20 407.74,177.30 415.46,178.70 423.18,145.90 430.90,178.70 438.62,191.70 446.34,203.10 454.06,185.50 461.78,200.10 469.50,196.90 477.22,195.50 484.94,196.70 492.66,198.40 500.38,209.80" fill="none" stroke="#000" stroke-width="1.25" stroke-linejoin="round" />
<rect x="42.05" y="221.20" width="5.0" height="5.0" fill="#000" stroke="#000" stroke-width="0.9"/>
<rect x="49.77" y="224.60" width="5.0" height="5.0" fill="#000" stroke="#000" stroke-width="0.9"/>
<rect x="57.50" y="226.70" width="5.0" height="5.0" fill="#000" stroke="#000" stroke-width="0.9"/>
<rect x="65.22" y="226.00" width="5.0" height="5.0" fill="#000" stroke="#000" stroke-width="0.9"/>
<rect x="72.95" y="225.80" width="5.0" height="5.0" fill="#000" stroke="#000" stroke-width="0.9"/>
<rect x="80.67" y="225.80" width="5.0" height="5.0" fill="#000" stroke="#000" stroke-width="0.9"/>
<rect x="88.40" y="222.40" width="5.0" height="5.0" fill="#000" stroke="#000" stroke-width="0.9"/>
<rect x="96.12" y="222.90" width="5.0" height="5.0" fill="#000" stroke="#000" stroke-width="0.9"/>
<rect x="103.85" y="222.70" width="5.0" height="5.0" fill="#000" stroke="#000" stroke-width="0.9"/>
<rect x="111.57" y="218.90" width="5.0" height="5.0" fill="#000" stroke="#000" stroke-width="0.9"/>
<rect x="119.30" y="219.80" width="5.0" height="5.0" fill="#000" stroke="#000" stroke-width="0.9"/>
<rect x="127.02" y="222.90" width="5.0" height="5.0" fill="#000" stroke="#000" stroke-width="0.9"/>
<rect x="134.75" y="214.90" width="5.0" height="5.0" fill="#000" stroke="#000" stroke-width="0.9"/>
<rect x="142.47" y="219.30" width="5.0" height="5.0" fill="#000" stroke="#000" stroke-width="0.9"/>
<rect x="150.20" y="217.20" width="5.0" height="5.0" fill="#000" stroke="#000" stroke-width="0.9"/>
<rect x="157.93" y="216.80" width="5.0" height="5.0" fill="#000" stroke="#000" stroke-width="0.9"/>
<rect x="165.65" y="222.90" width="5.0" height="5.0" fill="#000" stroke="#000" stroke-width="0.9"/>
<rect x="173.38" y="213.40" width="5.0" height="5.0" fill="#000" stroke="#000" stroke-width="0.9"/>
<rect x="181.10" y="210.30" width="5.0" height="5.0" fill="#000" stroke="#000" stroke-width="0.9"/>
<rect x="188.82" y="213.70" width="5.0" height="5.0" fill="#000" stroke="#000" stroke-width="0.9"/>
<rect x="196.55" y="209.40" width="5.0" height="5.0" fill="#000" stroke="#000" stroke-width="0.9"/>
<rect x="204.27" y="208.20" width="5.0" height="5.0" fill="#000" stroke="#000" stroke-width="0.9"/>
<rect x="212.00" y="205.30" width="5.0" height="5.0" fill="#000" stroke="#000" stroke-width="0.9"/>
<rect x="219.72" y="179.60" width="5.0" height="5.0" fill="#000" stroke="#000" stroke-width="0.9"/>
<rect x="227.45" y="209.10" width="5.0" height="5.0" fill="#000" stroke="#000" stroke-width="0.9"/>
<rect x="235.18" y="201.50" width="5.0" height="5.0" fill="#000" stroke="#000" stroke-width="0.9"/>
<rect x="242.90" y="200.80" width="5.0" height="5.0" fill="#000" stroke="#000" stroke-width="0.9"/>
<rect x="250.62" y="190.40" width="5.0" height="5.0" fill="#000" stroke="#000" stroke-width="0.9"/>
<rect x="258.35" y="174.30" width="5.0" height="5.0" fill="#000" stroke="#000" stroke-width="0.9"/>
<rect x="266.07" y="200.20" width="5.0" height="5.0" fill="#000" stroke="#000" stroke-width="0.9"/>
<rect x="273.80" y="177.90" width="5.0" height="5.0" fill="#000" stroke="#000" stroke-width="0.9"/>
<rect x="281.52" y="170.40" width="5.0" height="5.0" fill="#000" stroke="#000" stroke-width="0.9"/>
<rect x="289.25" y="173.30" width="5.0" height="5.0" fill="#000" stroke="#000" stroke-width="0.9"/>
<rect x="296.97" y="124.20" width="5.0" height="5.0" fill="#000" stroke="#000" stroke-width="0.9"/>
<rect x="304.70" y="134.70" width="5.0" height="5.0" fill="#000" stroke="#000" stroke-width="0.9"/>
<rect x="312.43" y="112.90" width="5.0" height="5.0" fill="#000" stroke="#000" stroke-width="0.9"/>
<rect x="320.15" y="123.50" width="5.0" height="5.0" fill="#000" stroke="#000" stroke-width="0.9"/>
<rect x="327.88" y="81.70" width="5.0" height="5.0" fill="#000" stroke="#000" stroke-width="0.9"/>
<rect x="335.60" y="132.50" width="5.0" height="5.0" fill="#000" stroke="#000" stroke-width="0.9"/>
<rect x="343.32" y="132.10" width="5.0" height="5.0" fill="#000" stroke="#000" stroke-width="0.9"/>
<rect x="351.05" y="113.80" width="5.0" height="5.0" fill="#000" stroke="#000" stroke-width="0.9"/>
<rect x="358.77" y="90.30" width="5.0" height="5.0" fill="#000" stroke="#000" stroke-width="0.9"/>
<rect x="366.50" y="107.90" width="5.0" height="5.0" fill="#000" stroke="#000" stroke-width="0.9"/>
<rect x="374.23" y="95.30" width="5.0" height="5.0" fill="#000" stroke="#000" stroke-width="0.9"/>
<rect x="389.80" y="89.60" width="5.0" height="5.0" fill="#000" stroke="#000" stroke-width="0.9"/>
<rect x="397.52" y="115.70" width="5.0" height="5.0" fill="#000" stroke="#000" stroke-width="0.9"/>
<rect x="405.24" y="174.80" width="5.0" height="5.0" fill="#000" stroke="#000" stroke-width="0.9"/>
<rect x="412.96" y="176.20" width="5.0" height="5.0" fill="#000" stroke="#000" stroke-width="0.9"/>
<rect x="420.68" y="143.40" width="5.0" height="5.0" fill="#000" stroke="#000" stroke-width="0.9"/>
<rect x="428.40" y="176.20" width="5.0" height="5.0" fill="#000" stroke="#000" stroke-width="0.9"/>
<rect x="436.12" y="189.20" width="5.0" height="5.0" fill="#000" stroke="#000" stroke-width="0.9"/>
<rect x="443.84" y="200.60" width="5.0" height="5.0" fill="#000" stroke="#000" stroke-width="0.9"/>
<rect x="451.56" y="183.00" width="5.0" height="5.0" fill="#000" stroke="#000" stroke-width="0.9"/>
<rect x="459.28" y="197.60" width="5.0" height="5.0" fill="#000" stroke="#000" stroke-width="0.9"/>
<rect x="467.00" y="194.40" width="5.0" height="5.0" fill="#000" stroke="#000" stroke-width="0.9"/>
<rect x="474.72" y="193.00" width="5.0" height="5.0" fill="#000" stroke="#000" stroke-width="0.9"/>
<rect x="482.44" y="194.20" width="5.0" height="5.0" fill="#000" stroke="#000" stroke-width="0.9"/>
<rect x="490.16" y="195.90" width="5.0" height="5.0" fill="#000" stroke="#000" stroke-width="0.9"/>
<rect x="497.88" y="207.30" width="5.0" height="5.0" fill="#000" stroke="#000" stroke-width="0.9"/>
<rect x="513.20" y="133.50" width="5.0" height="5.0" fill="#000" stroke="#000" stroke-width="0.9"/>
<rect x="42.05" y="222.80" width="5.0" height="5.0" fill="#fff" stroke="#000" stroke-width="0.9"/>
<rect x="49.77" y="223.80" width="5.0" height="5.0" fill="#fff" stroke="#000" stroke-width="0.9"/>
<rect x="57.50" y="224.10" width="5.0" height="5.0" fill="#fff" stroke="#000" stroke-width="0.9"/>
<rect x="65.22" y="217.20" width="5.0" height="5.0" fill="#fff" stroke="#000" stroke-width="0.9"/>
<rect x="72.95" y="214.20" width="5.0" height="5.0" fill="#fff" stroke="#000" stroke-width="0.9"/>
<rect x="80.67" y="208.20" width="5.0" height="5.0" fill="#fff" stroke="#000" stroke-width="0.9"/>
<rect x="88.40" y="199.90" width="5.0" height="5.0" fill="#fff" stroke="#000" stroke-width="0.9"/>
<rect x="96.12" y="209.10" width="5.0" height="5.0" fill="#fff" stroke="#000" stroke-width="0.9"/>
<rect x="103.85" y="199.40" width="5.0" height="5.0" fill="#fff" stroke="#000" stroke-width="0.9"/>
<rect x="111.57" y="199.20" width="5.0" height="5.0" fill="#fff" stroke="#000" stroke-width="0.9"/>
<rect x="119.30" y="199.20" width="5.0" height="5.0" fill="#fff" stroke="#000" stroke-width="0.9"/>
<rect x="127.02" y="203.10" width="5.0" height="5.0" fill="#fff" stroke="#000" stroke-width="0.9"/>
<rect x="134.75" y="208.70" width="5.0" height="5.0" fill="#fff" stroke="#000" stroke-width="0.9"/>
<rect x="142.47" y="211.50" width="5.0" height="5.0" fill="#fff" stroke="#000" stroke-width="0.9"/>
<rect x="150.20" y="214.60" width="5.0" height="5.0" fill="#fff" stroke="#000" stroke-width="0.9"/>
<rect x="157.93" y="212.50" width="5.0" height="5.0" fill="#fff" stroke="#000" stroke-width="0.9"/>
<rect x="165.65" y="208.50" width="5.0" height="5.0" fill="#fff" stroke="#000" stroke-width="0.9"/>
<rect x="173.38" y="190.40" width="5.0" height="5.0" fill="#fff" stroke="#000" stroke-width="0.9"/>
<rect x="181.10" y="192.40" width="5.0" height="5.0" fill="#fff" stroke="#000" stroke-width="0.9"/>
<rect x="188.82" y="202.80" width="5.0" height="5.0" fill="#fff" stroke="#000" stroke-width="0.9"/>
<rect x="196.55" y="201.10" width="5.0" height="5.0" fill="#fff" stroke="#000" stroke-width="0.9"/>
<rect x="204.27" y="200.20" width="5.0" height="5.0" fill="#fff" stroke="#000" stroke-width="0.9"/>
<rect x="212.00" y="191.50" width="5.0" height="5.0" fill="#fff" stroke="#000" stroke-width="0.9"/>
<rect x="219.72" y="199.90" width="5.0" height="5.0" fill="#fff" stroke="#000" stroke-width="0.9"/>
<rect x="227.45" y="200.20" width="5.0" height="5.0" fill="#fff" stroke="#000" stroke-width="0.9"/>
<rect x="235.18" y="201.10" width="5.0" height="5.0" fill="#fff" stroke="#000" stroke-width="0.9"/>
<rect x="242.90" y="201.10" width="5.0" height="5.0" fill="#fff" stroke="#000" stroke-width="0.9"/>
<rect x="250.62" y="180.90" width="5.0" height="5.0" fill="#fff" stroke="#000" stroke-width="0.9"/>
<rect x="258.35" y="182.20" width="5.0" height="5.0" fill="#fff" stroke="#000" stroke-width="0.9"/>
<rect x="266.07" y="182.50" width="5.0" height="5.0" fill="#fff" stroke="#000" stroke-width="0.9"/>
<rect x="273.80" y="183.10" width="5.0" height="5.0" fill="#fff" stroke="#000" stroke-width="0.9"/>
<rect x="281.52" y="156.50" width="5.0" height="5.0" fill="#fff" stroke="#000" stroke-width="0.9"/>
<rect x="289.25" y="179.00" width="5.0" height="5.0" fill="#fff" stroke="#000" stroke-width="0.9"/>
<rect x="296.97" y="153.60" width="5.0" height="5.0" fill="#fff" stroke="#000" stroke-width="0.9"/>
<rect x="304.70" y="157.30" width="5.0" height="5.0" fill="#fff" stroke="#000" stroke-width="0.9"/>
<rect x="312.43" y="170.40" width="5.0" height="5.0" fill="#fff" stroke="#000" stroke-width="0.9"/>
<rect x="320.15" y="156.10" width="5.0" height="5.0" fill="#fff" stroke="#000" stroke-width="0.9"/>
<rect x="327.88" y="158.30" width="5.0" height="5.0" fill="#fff" stroke="#000" stroke-width="0.9"/>
<rect x="335.60" y="179.90" width="5.0" height="5.0" fill="#fff" stroke="#000" stroke-width="0.9"/>
<rect x="343.32" y="170.10" width="5.0" height="5.0" fill="#fff" stroke="#000" stroke-width="0.9"/>
<rect x="351.05" y="165.00" width="5.0" height="5.0" fill="#fff" stroke="#000" stroke-width="0.9"/>
<rect x="358.77" y="161.10" width="5.0" height="5.0" fill="#fff" stroke="#000" stroke-width="0.9"/>
<rect x="366.50" y="143.30" width="5.0" height="5.0" fill="#fff" stroke="#000" stroke-width="0.9"/>
<rect x="374.23" y="150.90" width="5.0" height="5.0" fill="#fff" stroke="#000" stroke-width="0.9"/>
<rect x="389.80" y="174.50" width="5.0" height="5.0" fill="#fff" stroke="#000" stroke-width="0.9"/>
<rect x="397.52" y="217.50" width="5.0" height="5.0" fill="#fff" stroke="#000" stroke-width="0.9"/>
<rect x="405.24" y="209.70" width="5.0" height="5.0" fill="#fff" stroke="#000" stroke-width="0.9"/>
<rect x="412.96" y="198.50" width="5.0" height="5.0" fill="#fff" stroke="#000" stroke-width="0.9"/>
<rect x="420.68" y="212.50" width="5.0" height="5.0" fill="#fff" stroke="#000" stroke-width="0.9"/>
<rect x="428.40" y="196.40" width="5.0" height="5.0" fill="#fff" stroke="#000" stroke-width="0.9"/>
<rect x="436.12" y="198.20" width="5.0" height="5.0" fill="#fff" stroke="#000" stroke-width="0.9"/>
<rect x="443.84" y="222.90" width="5.0" height="5.0" fill="#fff" stroke="#000" stroke-width="0.9"/>
<rect x="451.56" y="221.20" width="5.0" height="5.0" fill="#fff" stroke="#000" stroke-width="0.9"/>
<rect x="459.28" y="226.40" width="5.0" height="5.0" fill="#fff" stroke="#000" stroke-width="0.9"/>
<rect x="467.00" y="221.50" width="5.0" height="5.0" fill="#fff" stroke="#000" stroke-width="0.9"/>
<rect x="474.72" y="221.20" width="5.0" height="5.0" fill="#fff" stroke="#000" stroke-width="0.9"/>
<rect x="482.44" y="225.00" width="5.0" height="5.0" fill="#fff" stroke="#000" stroke-width="0.9"/>
<rect x="490.16" y="227.60" width="5.0" height="5.0" fill="#fff" stroke="#000" stroke-width="0.9"/>
<rect x="497.88" y="222.90" width="5.0" height="5.0" fill="#fff" stroke="#000" stroke-width="0.9"/>
<rect x="513.20" y="196.40" width="5.0" height="5.0" fill="#fff" stroke="#000" stroke-width="0.9"/>
<polyline points="44.55,221.00 52.27,224.00 60.00,229.00 67.72,229.50 75.45,229.50 83.17,230.00 90.90,228.00 98.62,227.50 106.35,227.00 114.07,227.00 121.80,226.00 129.52,226.00 137.25,225.40 144.97,226.60 152.70,229.20 160.43,228.90 168.15,230.00 175.88,225.40 183.60,229.20 191.32,226.60 199.05,229.20 206.77,226.30 214.50,227.80 222.22,224.90 229.95,228.90 237.68,224.00 245.40,228.30 253.12,227.50 260.85,228.30 268.57,229.50 276.30,230.70 284.02,225.00 291.75,228.30 299.47,229.00 307.20,230.00 314.93,227.00 322.65,224.50 330.38,223.80 338.10,229.60 345.82,228.30 353.55,229.60 361.27,230.00 369.00,226.30 376.73,230.80" fill="none" stroke="#000" stroke-width="1.05" stroke-linejoin="round" stroke-dasharray="2.6 1.3"/>
<polyline points="44.55,226.00 52.27,228.00 60.00,230.00 67.72,231.00 75.45,231.00 83.17,230.50 90.90,229.50 98.62,229.00 106.35,228.50 114.07,229.50 121.80,228.00 129.52,227.00 137.25,229.50 144.97,228.00 152.70,229.20 160.43,227.50 168.15,229.20 175.88,228.30 183.60,229.50 191.32,230.00 199.05,228.30 206.77,227.60 214.50,229.20 222.22,231.00 229.95,228.30 237.68,225.40 245.40,229.20 253.12,230.00 260.85,230.00 268.57,230.00 276.30,231.00 284.02,229.20 291.75,229.20 299.47,229.60 307.20,229.60 314.93,229.60 322.65,229.60 330.38,230.00 338.10,229.80 345.82,229.60 353.55,229.60 361.27,229.60 369.00,229.00 376.73,230.00" fill="none" stroke="#555" stroke-width="0.9" stroke-linejoin="round" stroke-dasharray="0.9 1.0"/>
<polyline points="392.30,223.00 400.02,219.70 407.74,222.00 415.46,225.00 423.18,227.00 430.90,222.00 438.62,219.70 446.34,225.70 454.06,228.00 461.78,229.50 469.50,229.00 477.22,229.50 484.94,230.00 492.66,230.50 500.38,230.00" fill="none" stroke="#000" stroke-width="1.05" stroke-linejoin="round" stroke-dasharray="2.6 1.3"/>
<polyline points="392.30,224.00 400.02,220.00 407.74,223.00 415.46,225.50 423.18,227.50 430.90,221.00 438.62,220.00 446.34,226.50 454.06,229.50 461.78,230.50 469.50,229.50 477.22,231.00 484.94,231.00 492.66,231.00 500.38,231.00" fill="none" stroke="#555" stroke-width="0.9" stroke-linejoin="round" stroke-dasharray="0.9 1.0"/>
<text transform="translate(299.77,99.55) scale(1.0,1)" font-size="11.5" font-weight="normal" text-anchor="middle" fill="#2a2a2a" stroke="#2a2a2a" stroke-width="0.25">*</text>
<text transform="translate(315.23,77.45) scale(1.0,1)" font-size="11.5" font-weight="normal" text-anchor="middle" fill="#2a2a2a" stroke="#2a2a2a" stroke-width="0.25">*</text>
<text transform="translate(315.23,83.05) scale(1.0,1)" font-size="11.5" font-weight="normal" text-anchor="middle" fill="#2a2a2a" stroke="#2a2a2a" stroke-width="0.25">*</text>
<text transform="translate(322.95,95.45) scale(1.0,1)" font-size="11.5" font-weight="normal" text-anchor="middle" fill="#2a2a2a" stroke="#2a2a2a" stroke-width="0.25">*</text>
<text transform="translate(322.95,100.95) scale(1.0,1)" font-size="11.5" font-weight="normal" text-anchor="middle" fill="#2a2a2a" stroke="#2a2a2a" stroke-width="0.25">*</text>
<text transform="translate(330.68,33.25) scale(1.0,1)" font-size="11.5" font-weight="normal" text-anchor="middle" fill="#2a2a2a" stroke="#2a2a2a" stroke-width="0.25">*</text>
<text transform="translate(330.68,38.55) scale(1.0,1)" font-size="11.5" font-weight="normal" text-anchor="middle" fill="#2a2a2a" stroke="#2a2a2a" stroke-width="0.25">*</text>
<text transform="translate(330.68,44.15) scale(1.0,1)" font-size="11.5" font-weight="normal" text-anchor="middle" fill="#2a2a2a" stroke="#2a2a2a" stroke-width="0.25">*</text>
<text transform="translate(361.57,41.15) scale(1.0,1)" font-size="11.5" font-weight="normal" text-anchor="middle" fill="#2a2a2a" stroke="#2a2a2a" stroke-width="0.25">*</text>
<text transform="translate(361.57,46.75) scale(1.0,1)" font-size="11.5" font-weight="normal" text-anchor="middle" fill="#2a2a2a" stroke="#2a2a2a" stroke-width="0.25">*</text>
<text transform="translate(369.30,72.15) scale(1.0,1)" font-size="11.5" font-weight="normal" text-anchor="middle" fill="#2a2a2a" stroke="#2a2a2a" stroke-width="0.25">*</text>
<text transform="translate(377.03,43.25) scale(1.0,1)" font-size="11.5" font-weight="normal" text-anchor="middle" fill="#2a2a2a" stroke="#2a2a2a" stroke-width="0.25">*</text>
<text transform="translate(438.92,173.55) scale(1.0,1)" font-size="11.5" font-weight="normal" text-anchor="middle" fill="#2a2a2a" stroke="#2a2a2a" stroke-width="0.25">*</text>
<text transform="translate(438.92,179.25) scale(1.0,1)" font-size="11.5" font-weight="normal" text-anchor="middle" fill="#2a2a2a" stroke="#2a2a2a" stroke-width="0.25">*</text>
<text transform="translate(446.64,183.05) scale(1.0,1)" font-size="11.5" font-weight="normal" text-anchor="middle" fill="#2a2a2a" stroke="#2a2a2a" stroke-width="0.25">*</text>
<text transform="translate(446.64,188.55) scale(1.0,1)" font-size="11.5" font-weight="normal" text-anchor="middle" fill="#2a2a2a" stroke="#2a2a2a" stroke-width="0.25">*</text>
<text transform="translate(462.08,174.45) scale(1.0,1)" font-size="11.5" font-weight="normal" text-anchor="middle" fill="#2a2a2a" stroke="#2a2a2a" stroke-width="0.25">*</text>
<text transform="translate(462.08,180.45) scale(1.0,1)" font-size="11.5" font-weight="normal" text-anchor="middle" fill="#2a2a2a" stroke="#2a2a2a" stroke-width="0.25">*</text>
<text transform="translate(462.08,186.15) scale(1.0,1)" font-size="11.5" font-weight="normal" text-anchor="middle" fill="#2a2a2a" stroke="#2a2a2a" stroke-width="0.25">*</text>
<text transform="translate(469.80,171.25) scale(1.0,1)" font-size="11.5" font-weight="normal" text-anchor="middle" fill="#2a2a2a" stroke="#2a2a2a" stroke-width="0.25">*</text>
<text transform="translate(469.80,176.95) scale(1.0,1)" font-size="11.5" font-weight="normal" text-anchor="middle" fill="#2a2a2a" stroke="#2a2a2a" stroke-width="0.25">*</text>
<text transform="translate(469.80,182.75) scale(1.0,1)" font-size="11.5" font-weight="normal" text-anchor="middle" fill="#2a2a2a" stroke="#2a2a2a" stroke-width="0.25">*</text>
<text transform="translate(477.52,174.75) scale(1.0,1)" font-size="11.5" font-weight="normal" text-anchor="middle" fill="#2a2a2a" stroke="#2a2a2a" stroke-width="0.25">*</text>
<text transform="translate(477.52,180.45) scale(1.0,1)" font-size="11.5" font-weight="normal" text-anchor="middle" fill="#2a2a2a" stroke="#2a2a2a" stroke-width="0.25">*</text>
<text transform="translate(485.24,169.55) scale(1.0,1)" font-size="11.5" font-weight="normal" text-anchor="middle" fill="#2a2a2a" stroke="#2a2a2a" stroke-width="0.25">*</text>
<text transform="translate(485.24,175.25) scale(1.0,1)" font-size="11.5" font-weight="normal" text-anchor="middle" fill="#2a2a2a" stroke="#2a2a2a" stroke-width="0.25">*</text>
<text transform="translate(485.24,180.95) scale(1.0,1)" font-size="11.5" font-weight="normal" text-anchor="middle" fill="#2a2a2a" stroke="#2a2a2a" stroke-width="0.25">*</text>
<text transform="translate(492.96,177.55) scale(1.0,1)" font-size="11.5" font-weight="normal" text-anchor="middle" fill="#2a2a2a" stroke="#2a2a2a" stroke-width="0.25">*</text>
<text transform="translate(500.68,192.05) scale(1.0,1)" font-size="11.5" font-weight="normal" text-anchor="middle" fill="#2a2a2a" stroke="#2a2a2a" stroke-width="0.25">*</text>
<text transform="translate(500.68,197.75) scale(1.0,1)" font-size="11.5" font-weight="normal" text-anchor="middle" fill="#2a2a2a" stroke="#2a2a2a" stroke-width="0.25">*</text>
<text transform="translate(500.68,203.25) scale(1.0,1)" font-size="11.5" font-weight="normal" text-anchor="middle" fill="#2a2a2a" stroke="#2a2a2a" stroke-width="0.25">*</text>
<text transform="translate(400.00,190.30) scale(0.95,1)" font-size="7.6" font-weight="bold" text-anchor="middle" fill="#4a4a4a" >#</text>
<text transform="translate(514.60,109.40) scale(1.0,1)" font-size="11" font-weight="bold" text-anchor="middle" fill="#000" >+</text>
<text transform="translate(174.80,145.10) scale(0.76,1)" font-size="8.5" font-weight="bold" text-anchor="middle" fill="#000" stroke="#000" stroke-width="0.25">FR-2</text>
<line x1="175.00" y1="145.70" x2="175.00" y2="163.10" stroke="#000" stroke-width="1.7" />
<polygon points="172.65,162.10 177.35,162.10 175.00,168.70" fill="#000"/>
<text transform="translate(252.20,138.30) scale(0.76,1)" font-size="8.5" font-weight="bold" text-anchor="middle" fill="#000" stroke="#000" stroke-width="0.25">FR-3</text>
<line x1="251.90" y1="138.00" x2="251.90" y2="155.60" stroke="#000" stroke-width="1.7" />
<polygon points="249.55,154.60 254.25,154.60 251.90,161.20" fill="#000"/>
<text transform="translate(299.00,67.10) scale(0.76,1)" font-size="8.5" font-weight="bold" text-anchor="middle" fill="#000" stroke="#000" stroke-width="0.25">FR-4</text>
<line x1="299.20" y1="67.80" x2="299.20" y2="87.50" stroke="#000" stroke-width="1.7" />
<polygon points="296.85,86.50 301.55,86.50 299.20,93.10" fill="#000"/>
<text transform="translate(345.10,69.70) scale(0.76,1)" font-size="8.5" font-weight="bold" text-anchor="middle" fill="#000" stroke="#000" stroke-width="0.25">FR-5</text>
<line x1="345.00" y1="70.70" x2="345.00" y2="94.20" stroke="#000" stroke-width="1.7" />
<polygon points="342.65,93.20 347.35,93.20 345.00,99.80" fill="#000"/>
<text transform="translate(55.20,201.60) scale(0.76,1)" font-size="8.5" font-weight="bold" text-anchor="middle" fill="#333" >FR-1</text>
<line x1="56.20" y1="202.20" x2="49.09" y2="214.06" stroke="#000" stroke-width="1.6" />
<polygon points="47.37,211.86 51.83,214.54 46.00,219.20" fill="#000"/>
<text transform="translate(471.20,79.10) scale(0.6894276760679531,1)" font-size="8.8" font-weight="bold" text-anchor="start" fill="#000" stroke="#000" stroke-width="0.2">Reinstatement</text>
<line x1="470.10" y1="82.00" x2="515.40" y2="82.00" stroke="#6a6a6a" stroke-width="1.4" />
<line x1="514.80" y1="82.00" x2="514.80" y2="94.10" stroke="#000" stroke-width="1.3" />
<polygon points="512.45,93.10 517.15,93.10 514.80,99.70" fill="#000"/>
<line x1="82.30" y1="19.70" x2="104.10" y2="19.70" stroke="#666" stroke-width="1.8" />
<rect x="92.90" y="17.20" width="5.0" height="5.0" fill="#000" stroke="#000" stroke-width="0.9"/>
<text transform="translate(111.70,22.65) scale(0.79,1)" font-size="10" font-weight="normal" text-anchor="start" fill="#000" stroke="#000" stroke-width="0.6">LC</text>
<text transform="translate(122.20,25.05) scale(0.82,1)" font-size="6.6" font-weight="bold" text-anchor="start" fill="#000" >AMPH1</text>
<text transform="translate(141.10,22.65) scale(0.8,1)" font-size="10" font-weight="normal" text-anchor="start" fill="#000" stroke="#000" stroke-width="0.6">,</text>
<text transform="translate(146.30,22.65) scale(0.8174386920980927,1)" font-size="10" font-weight="normal" text-anchor="start" fill="#000" stroke="#000" stroke-width="0.6">&#8216;active&#8217; nose-pokes</text>
<line x1="82.30" y1="37.40" x2="104.10" y2="37.40" stroke="#222" stroke-width="1.2" />
<rect x="92.90" y="34.90" width="5.0" height="5.0" fill="#fff" stroke="#000" stroke-width="0.9"/>
<text transform="translate(111.30,40.55) scale(0.715,1)" font-size="10" font-weight="normal" text-anchor="start" fill="#000" stroke="#000" stroke-width="0.6">HC</text>
<text transform="translate(122.02,42.95) scale(0.82,1)" font-size="6.6" font-weight="bold" text-anchor="start" fill="#000" >AMPH1</text>
<text transform="translate(140.92,40.55) scale(0.8,1)" font-size="10" font-weight="normal" text-anchor="start" fill="#000" stroke="#000" stroke-width="0.6">,</text>
<text transform="translate(146.30,40.55) scale(0.8328397109347232,1)" font-size="10" font-weight="normal" text-anchor="start" fill="#000" stroke="#000" stroke-width="0.6">&#8216;active&#8217; nose-pokes</text>
<line x1="82.30" y1="55.50" x2="104.10" y2="55.50" stroke="#000" stroke-width="0.9" stroke-dasharray="2.2 1.2"/>
<text transform="translate(112.20,58.55) scale(0.79,1)" font-size="10" font-weight="normal" text-anchor="start" fill="#000" stroke="#000" stroke-width="0.6">LC</text>
<text transform="translate(122.70,60.95) scale(0.82,1)" font-size="6.6" font-weight="bold" text-anchor="start" fill="#000" >AMPH1</text>
<text transform="translate(141.60,58.55) scale(0.8,1)" font-size="10" font-weight="normal" text-anchor="start" fill="#000" stroke="#000" stroke-width="0.6">,</text>
<text transform="translate(147.00,58.55) scale(0.8167028199566162,1)" font-size="10" font-weight="normal" text-anchor="start" fill="#000" stroke="#000" stroke-width="0.6">&#8216;inactive&#8217; nose-pokes</text>
<line x1="82.30" y1="72.50" x2="104.10" y2="72.50" stroke="#555" stroke-width="0.9" stroke-dasharray="0.8 0.9"/>
<text transform="translate(112.20,76.15) scale(0.715,1)" font-size="10" font-weight="normal" text-anchor="start" fill="#000" stroke="#000" stroke-width="0.6">HC</text>
<text transform="translate(122.92,78.55) scale(0.82,1)" font-size="6.6" font-weight="bold" text-anchor="start" fill="#000" >AMPH1</text>
<text transform="translate(141.82,76.15) scale(0.8,1)" font-size="10" font-weight="normal" text-anchor="start" fill="#000" stroke="#000" stroke-width="0.6">,</text>
<text transform="translate(147.60,76.15) scale(0.824295010845987,1)" font-size="10" font-weight="normal" text-anchor="start" fill="#000" stroke="#000" stroke-width="0.6">&#8216;inactive&#8217; nose-pokes</text>
<line x1="43.45" y1="290.30" x2="43.45" y2="523.10" stroke="#6a6a6a" stroke-width="1.1" />
<line x1="39.65" y1="522.60" x2="43.45" y2="522.60" stroke="#222" stroke-width="1.0" />
<text transform="translate(34.75,526.35) scale(0.73,1)" font-size="11.3" font-weight="normal" text-anchor="end" fill="#000" stroke="#000" stroke-width="0.7">0</text>
<line x1="39.65" y1="493.10" x2="43.45" y2="493.10" stroke="#222" stroke-width="1.0" />
<text transform="translate(34.75,496.85) scale(0.73,1)" font-size="11.3" font-weight="normal" text-anchor="end" fill="#000" stroke="#000" stroke-width="0.7">10</text>
<line x1="39.65" y1="463.60" x2="43.45" y2="463.60" stroke="#222" stroke-width="1.0" />
<text transform="translate(34.75,467.35) scale(0.73,1)" font-size="11.3" font-weight="normal" text-anchor="end" fill="#000" stroke="#000" stroke-width="0.7">20</text>
<line x1="39.65" y1="434.10" x2="43.45" y2="434.10" stroke="#222" stroke-width="1.0" />
<text transform="translate(34.75,437.85) scale(0.73,1)" font-size="11.3" font-weight="normal" text-anchor="end" fill="#000" stroke="#000" stroke-width="0.7">30</text>
<line x1="39.65" y1="404.60" x2="43.45" y2="404.60" stroke="#222" stroke-width="1.0" />
<text transform="translate(34.75,408.35) scale(0.73,1)" font-size="11.3" font-weight="normal" text-anchor="end" fill="#000" stroke="#000" stroke-width="0.7">40</text>
<line x1="39.65" y1="375.10" x2="43.45" y2="375.10" stroke="#222" stroke-width="1.0" />
<text transform="translate(34.75,378.85) scale(0.73,1)" font-size="11.3" font-weight="normal" text-anchor="end" fill="#000" stroke="#000" stroke-width="0.7">50</text>
<line x1="39.65" y1="345.60" x2="43.45" y2="345.60" stroke="#222" stroke-width="1.0" />
<text transform="translate(34.75,349.35) scale(0.73,1)" font-size="11.3" font-weight="normal" text-anchor="end" fill="#000" stroke="#000" stroke-width="0.7">60</text>
<line x1="39.65" y1="316.10" x2="43.45" y2="316.10" stroke="#222" stroke-width="1.0" />
<text transform="translate(34.75,319.85) scale(0.73,1)" font-size="11.3" font-weight="normal" text-anchor="end" fill="#000" stroke="#000" stroke-width="0.7">70</text>
<line x1="40.05" y1="522.60" x2="379.49" y2="522.60" stroke="#8a8a8a" stroke-width="1.0" />
<line x1="392.00" y1="522.60" x2="503.70" y2="522.60" stroke="#8a8a8a" stroke-width="1.0" />
<line x1="43.45" y1="522.60" x2="43.45" y2="525.90" stroke="#222" stroke-width="1.0" />
<text transform="translate(43.45,538.00) scale(0.76,1)" font-size="11.3" font-weight="normal" text-anchor="middle" fill="#000" stroke="#000" stroke-width="0.7">1</text>
<line x1="66.69" y1="522.60" x2="66.69" y2="525.90" stroke="#222" stroke-width="1.0" />
<text transform="translate(66.69,538.00) scale(0.76,1)" font-size="11.3" font-weight="normal" text-anchor="middle" fill="#000" stroke="#000" stroke-width="0.7">4</text>
<line x1="89.92" y1="522.60" x2="89.92" y2="525.90" stroke="#222" stroke-width="1.0" />
<text transform="translate(89.92,538.00) scale(0.76,1)" font-size="11.3" font-weight="normal" text-anchor="middle" fill="#000" stroke="#000" stroke-width="0.7">7</text>
<line x1="113.16" y1="522.60" x2="113.16" y2="525.90" stroke="#222" stroke-width="1.0" />
<text transform="translate(113.16,538.00) scale(0.76,1)" font-size="11.3" font-weight="normal" text-anchor="middle" fill="#000" stroke="#000" stroke-width="0.7">10</text>
<line x1="136.39" y1="522.60" x2="136.39" y2="525.90" stroke="#222" stroke-width="1.0" />
<text transform="translate(136.39,538.00) scale(0.76,1)" font-size="11.3" font-weight="normal" text-anchor="middle" fill="#000" stroke="#000" stroke-width="0.7">13</text>
<line x1="159.62" y1="522.60" x2="159.62" y2="525.90" stroke="#222" stroke-width="1.0" />
<text transform="translate(159.62,538.00) scale(0.76,1)" font-size="11.3" font-weight="normal" text-anchor="middle" fill="#000" stroke="#000" stroke-width="0.7">16</text>
<line x1="182.86" y1="522.60" x2="182.86" y2="525.90" stroke="#222" stroke-width="1.0" />
<text transform="translate(182.86,538.00) scale(0.76,1)" font-size="11.3" font-weight="normal" text-anchor="middle" fill="#000" stroke="#000" stroke-width="0.7">19</text>
<line x1="206.10" y1="522.60" x2="206.10" y2="525.90" stroke="#222" stroke-width="1.0" />
<text transform="translate(206.10,538.00) scale(0.76,1)" font-size="11.3" font-weight="normal" text-anchor="middle" fill="#000" stroke="#000" stroke-width="0.7">22</text>
<line x1="229.33" y1="522.60" x2="229.33" y2="525.90" stroke="#222" stroke-width="1.0" />
<text transform="translate(229.33,538.00) scale(0.76,1)" font-size="11.3" font-weight="normal" text-anchor="middle" fill="#000" stroke="#000" stroke-width="0.7">25</text>
<line x1="252.56" y1="522.60" x2="252.56" y2="525.90" stroke="#222" stroke-width="1.0" />
<text transform="translate(252.56,538.00) scale(0.76,1)" font-size="11.3" font-weight="normal" text-anchor="middle" fill="#000" stroke="#000" stroke-width="0.7">28</text>
<line x1="275.80" y1="522.60" x2="275.80" y2="525.90" stroke="#222" stroke-width="1.0" />
<text transform="translate(275.80,538.00) scale(0.76,1)" font-size="11.3" font-weight="normal" text-anchor="middle" fill="#000" stroke="#000" stroke-width="0.7">31</text>
<line x1="299.04" y1="522.60" x2="299.04" y2="525.90" stroke="#222" stroke-width="1.0" />
<text transform="translate(299.04,538.00) scale(0.76,1)" font-size="11.3" font-weight="normal" text-anchor="middle" fill="#000" stroke="#000" stroke-width="0.7">34</text>
<line x1="322.27" y1="522.60" x2="322.27" y2="525.90" stroke="#222" stroke-width="1.0" />
<text transform="translate(322.27,538.00) scale(0.76,1)" font-size="11.3" font-weight="normal" text-anchor="middle" fill="#000" stroke="#000" stroke-width="0.7">37</text>
<line x1="345.50" y1="522.60" x2="345.50" y2="525.90" stroke="#222" stroke-width="1.0" />
<text transform="translate(345.50,538.00) scale(0.76,1)" font-size="11.3" font-weight="normal" text-anchor="middle" fill="#000" stroke="#000" stroke-width="0.7">40</text>
<line x1="368.74" y1="522.60" x2="368.74" y2="525.90" stroke="#222" stroke-width="1.0" />
<text transform="translate(368.74,538.00) scale(0.76,1)" font-size="11.3" font-weight="normal" text-anchor="middle" fill="#000" stroke="#000" stroke-width="0.7">43</text>
<line x1="392.00" y1="522.60" x2="392.00" y2="525.90" stroke="#222" stroke-width="1.0" />
<text transform="translate(392.00,538.00) scale(0.76,1)" font-size="11.3" font-weight="normal" text-anchor="middle" fill="#000" stroke="#000" stroke-width="0.7">1</text>
<line x1="415.25" y1="522.60" x2="415.25" y2="525.90" stroke="#222" stroke-width="1.0" />
<text transform="translate(415.25,538.00) scale(0.76,1)" font-size="11.3" font-weight="normal" text-anchor="middle" fill="#000" stroke="#000" stroke-width="0.7">4</text>
<line x1="438.50" y1="522.60" x2="438.50" y2="525.90" stroke="#222" stroke-width="1.0" />
<text transform="translate(438.50,538.00) scale(0.76,1)" font-size="11.3" font-weight="normal" text-anchor="middle" fill="#000" stroke="#000" stroke-width="0.7">7</text>
<line x1="461.75" y1="522.60" x2="461.75" y2="525.90" stroke="#222" stroke-width="1.0" />
<text transform="translate(461.75,538.00) scale(0.76,1)" font-size="11.3" font-weight="normal" text-anchor="middle" fill="#000" stroke="#000" stroke-width="0.7">12</text>
<line x1="485.00" y1="522.60" x2="485.00" y2="525.90" stroke="#222" stroke-width="1.0" />
<text transform="translate(485.00,538.00) scale(0.76,1)" font-size="11.3" font-weight="normal" text-anchor="middle" fill="#000" stroke="#000" stroke-width="0.7">15</text>
<path d="M41.45,539.90 Q41.45,541.90 43.95,541.90 L116.16,541.90 L117.16,543.40 L118.16,541.90 L191.98,541.90 Q194.48,541.90 194.48,539.90" fill="none" stroke="#000" stroke-width="1.4"/>
<path d="M194.48,539.90 Q194.48,541.90 196.98,541.90 L285.18,541.90 L286.18,543.40 L287.18,541.90 L376.99,541.90 Q379.49,541.90 379.49,539.90" fill="none" stroke="#000" stroke-width="1.4"/>
<text transform="translate(63.50,556.10) scale(0.8797364085667215,1)" font-size="10.3" font-weight="normal" text-anchor="start" fill="#000" stroke="#000" stroke-width="0.5">0.03 mg AMPH/kg/infusion</text>
<text transform="translate(223.60,556.10) scale(0.8830313014827018,1)" font-size="10.3" font-weight="normal" text-anchor="start" fill="#000" stroke="#000" stroke-width="0.5">0.06 mg AMPH/kg/infusion</text>
<text transform="translate(146.30,567.80) scale(1.1314408717879725,1)" font-size="8.8" font-weight="bold" text-anchor="start" fill="#000" stroke="#000" stroke-width="0.55">Training sessions</text>
<text transform="translate(395.50,567.80) scale(1.1293924080385473,1)" font-size="8.8" font-weight="bold" text-anchor="start" fill="#000" stroke="#000" stroke-width="0.55">Extinction&#160; sessions</text>
<text transform="translate(19.70,405.90) rotate(-90) scale(1.14,1)" font-size="8.8" font-weight="bold" text-anchor="middle" fill="#000" stroke="#000" stroke-width="0.65">Nose-pokes/2 h</text>
<text transform="translate(0.30,304.00) scale(1.0,1)" font-size="17.8" font-weight="bold" text-anchor="start" fill="#000" stroke="#000" stroke-width="0.6">B</text>
<line x1="66.69" y1="514.00" x2="66.69" y2="510.60" stroke="#505050" stroke-width="1.0" />
<line x1="64.09" y1="510.60" x2="69.28" y2="510.60" stroke="#505050" stroke-width="1.0" />
<line x1="74.43" y1="512.00" x2="74.43" y2="508.00" stroke="#505050" stroke-width="1.0" />
<line x1="71.83" y1="508.00" x2="77.03" y2="508.00" stroke="#505050" stroke-width="1.0" />
<line x1="82.18" y1="515.40" x2="82.18" y2="512.00" stroke="#505050" stroke-width="1.0" />
<line x1="79.58" y1="512.00" x2="84.78" y2="512.00" stroke="#505050" stroke-width="1.0" />
<line x1="89.92" y1="505.70" x2="89.92" y2="502.00" stroke="#505050" stroke-width="1.0" />
<line x1="87.32" y1="502.00" x2="92.52" y2="502.00" stroke="#505050" stroke-width="1.0" />
<line x1="97.67" y1="510.00" x2="97.67" y2="507.00" stroke="#505050" stroke-width="1.0" />
<line x1="95.07" y1="507.00" x2="100.27" y2="507.00" stroke="#505050" stroke-width="1.0" />
<line x1="105.41" y1="504.80" x2="105.41" y2="501.00" stroke="#505050" stroke-width="1.0" />
<line x1="102.81" y1="501.00" x2="108.01" y2="501.00" stroke="#505050" stroke-width="1.0" />
<line x1="113.16" y1="507.10" x2="113.16" y2="503.00" stroke="#505050" stroke-width="1.0" />
<line x1="110.56" y1="503.00" x2="115.75" y2="503.00" stroke="#505050" stroke-width="1.0" />
<line x1="120.90" y1="511.10" x2="120.90" y2="504.50" stroke="#505050" stroke-width="1.0" />
<line x1="118.30" y1="504.50" x2="123.50" y2="504.50" stroke="#505050" stroke-width="1.0" />
<line x1="128.65" y1="512.30" x2="128.65" y2="508.80" stroke="#505050" stroke-width="1.0" />
<line x1="126.05" y1="508.80" x2="131.25" y2="508.80" stroke="#505050" stroke-width="1.0" />
<line x1="136.39" y1="512.60" x2="136.39" y2="509.70" stroke="#505050" stroke-width="1.0" />
<line x1="133.79" y1="509.70" x2="138.99" y2="509.70" stroke="#505050" stroke-width="1.0" />
<line x1="144.13" y1="514.90" x2="144.13" y2="512.00" stroke="#505050" stroke-width="1.0" />
<line x1="141.53" y1="512.00" x2="146.73" y2="512.00" stroke="#505050" stroke-width="1.0" />
<line x1="151.88" y1="514.00" x2="151.88" y2="511.00" stroke="#505050" stroke-width="1.0" />
<line x1="149.28" y1="511.00" x2="154.48" y2="511.00" stroke="#505050" stroke-width="1.0" />
<line x1="159.62" y1="510.60" x2="159.62" y2="507.00" stroke="#505050" stroke-width="1.0" />
<line x1="157.03" y1="507.00" x2="162.22" y2="507.00" stroke="#505050" stroke-width="1.0" />
<line x1="167.37" y1="518.00" x2="167.37" y2="515.00" stroke="#505050" stroke-width="1.0" />
<line x1="164.77" y1="515.00" x2="169.97" y2="515.00" stroke="#505050" stroke-width="1.0" />
<line x1="175.12" y1="514.00" x2="175.12" y2="508.80" stroke="#505050" stroke-width="1.0" />
<line x1="172.52" y1="508.80" x2="177.72" y2="508.80" stroke="#505050" stroke-width="1.0" />
<line x1="182.86" y1="513.70" x2="182.86" y2="508.80" stroke="#505050" stroke-width="1.0" />
<line x1="180.26" y1="508.80" x2="185.46" y2="508.80" stroke="#505050" stroke-width="1.0" />
<line x1="190.61" y1="512.30" x2="190.61" y2="507.60" stroke="#505050" stroke-width="1.0" />
<line x1="188.01" y1="507.60" x2="193.21" y2="507.60" stroke="#505050" stroke-width="1.0" />
<line x1="198.35" y1="511.80" x2="198.35" y2="507.10" stroke="#505050" stroke-width="1.0" />
<line x1="195.75" y1="507.10" x2="200.95" y2="507.10" stroke="#505050" stroke-width="1.0" />
<line x1="206.10" y1="516.60" x2="206.10" y2="513.00" stroke="#505050" stroke-width="1.0" />
<line x1="203.50" y1="513.00" x2="208.70" y2="513.00" stroke="#505050" stroke-width="1.0" />
<line x1="213.84" y1="504.50" x2="213.84" y2="496.40" stroke="#505050" stroke-width="1.0" />
<line x1="211.24" y1="496.40" x2="216.44" y2="496.40" stroke="#505050" stroke-width="1.0" />
<line x1="221.58" y1="508.00" x2="221.58" y2="500.50" stroke="#505050" stroke-width="1.0" />
<line x1="218.98" y1="500.50" x2="224.18" y2="500.50" stroke="#505050" stroke-width="1.0" />
<line x1="229.33" y1="509.30" x2="229.33" y2="504.00" stroke="#505050" stroke-width="1.0" />
<line x1="226.73" y1="504.00" x2="231.93" y2="504.00" stroke="#505050" stroke-width="1.0" />
<line x1="237.07" y1="510.60" x2="237.07" y2="505.70" stroke="#505050" stroke-width="1.0" />
<line x1="234.47" y1="505.70" x2="239.67" y2="505.70" stroke="#505050" stroke-width="1.0" />
<line x1="244.82" y1="511.40" x2="244.82" y2="507.00" stroke="#505050" stroke-width="1.0" />
<line x1="242.22" y1="507.00" x2="247.42" y2="507.00" stroke="#505050" stroke-width="1.0" />
<line x1="252.56" y1="505.90" x2="252.56" y2="496.40" stroke="#505050" stroke-width="1.0" />
<line x1="249.97" y1="496.40" x2="255.16" y2="496.40" stroke="#505050" stroke-width="1.0" />
<line x1="260.31" y1="506.70" x2="260.31" y2="498.40" stroke="#505050" stroke-width="1.0" />
<line x1="257.71" y1="498.40" x2="262.91" y2="498.40" stroke="#505050" stroke-width="1.0" />
<line x1="268.06" y1="506.20" x2="268.06" y2="497.20" stroke="#505050" stroke-width="1.0" />
<line x1="265.45" y1="497.20" x2="270.66" y2="497.20" stroke="#505050" stroke-width="1.0" />
<line x1="275.80" y1="503.30" x2="275.80" y2="490.70" stroke="#505050" stroke-width="1.0" />
<line x1="273.20" y1="490.70" x2="278.40" y2="490.70" stroke="#505050" stroke-width="1.0" />
<line x1="283.55" y1="499.00" x2="283.55" y2="488.40" stroke="#505050" stroke-width="1.0" />
<line x1="280.94" y1="488.40" x2="286.15" y2="488.40" stroke="#505050" stroke-width="1.0" />
<line x1="291.29" y1="502.00" x2="291.29" y2="493.30" stroke="#505050" stroke-width="1.0" />
<line x1="288.69" y1="493.30" x2="293.89" y2="493.30" stroke="#505050" stroke-width="1.0" />
<line x1="299.04" y1="497.80" x2="299.04" y2="485.40" stroke="#505050" stroke-width="1.0" />
<line x1="296.44" y1="485.40" x2="301.64" y2="485.40" stroke="#505050" stroke-width="1.0" />
<line x1="306.78" y1="492.10" x2="306.78" y2="476.30" stroke="#505050" stroke-width="1.0" />
<line x1="304.18" y1="476.30" x2="309.38" y2="476.30" stroke="#505050" stroke-width="1.0" />
<line x1="314.52" y1="492.10" x2="314.52" y2="477.40" stroke="#505050" stroke-width="1.0" />
<line x1="311.92" y1="477.40" x2="317.12" y2="477.40" stroke="#505050" stroke-width="1.0" />
<line x1="322.27" y1="487.50" x2="322.27" y2="467.50" stroke="#505050" stroke-width="1.0" />
<line x1="319.67" y1="467.50" x2="324.87" y2="467.50" stroke="#505050" stroke-width="1.0" />
<line x1="330.01" y1="463.70" x2="330.01" y2="425.40" stroke="#505050" stroke-width="1.0" />
<line x1="327.41" y1="425.40" x2="332.62" y2="425.40" stroke="#505050" stroke-width="1.0" />
<line x1="337.76" y1="493.20" x2="337.76" y2="477.40" stroke="#505050" stroke-width="1.0" />
<line x1="335.16" y1="477.40" x2="340.36" y2="477.40" stroke="#505050" stroke-width="1.0" />
<line x1="345.50" y1="495.90" x2="345.50" y2="479.50" stroke="#505050" stroke-width="1.0" />
<line x1="342.90" y1="479.50" x2="348.11" y2="479.50" stroke="#505050" stroke-width="1.0" />
<line x1="353.25" y1="487.50" x2="353.25" y2="470.40" stroke="#505050" stroke-width="1.0" />
<line x1="350.65" y1="470.40" x2="355.85" y2="470.40" stroke="#505050" stroke-width="1.0" />
<line x1="361.00" y1="485.80" x2="361.00" y2="468.30" stroke="#505050" stroke-width="1.0" />
<line x1="358.39" y1="468.30" x2="363.60" y2="468.30" stroke="#505050" stroke-width="1.0" />
<line x1="368.74" y1="469.60" x2="368.74" y2="438.80" stroke="#505050" stroke-width="1.0" />
<line x1="366.14" y1="438.80" x2="371.34" y2="438.80" stroke="#505050" stroke-width="1.0" />
<line x1="376.49" y1="488.90" x2="376.49" y2="466.80" stroke="#505050" stroke-width="1.0" />
<line x1="373.88" y1="466.80" x2="379.09" y2="466.80" stroke="#505050" stroke-width="1.0" />
<line x1="392.00" y1="456.30" x2="392.00" y2="423.70" stroke="#505050" stroke-width="1.0" />
<line x1="389.40" y1="423.70" x2="394.60" y2="423.70" stroke="#505050" stroke-width="1.0" />
<line x1="399.75" y1="496.30" x2="399.75" y2="482.60" stroke="#505050" stroke-width="1.0" />
<line x1="397.15" y1="482.60" x2="402.35" y2="482.60" stroke="#505050" stroke-width="1.0" />
<line x1="407.50" y1="497.50" x2="407.50" y2="485.30" stroke="#505050" stroke-width="1.0" />
<line x1="404.90" y1="485.30" x2="410.10" y2="485.30" stroke="#505050" stroke-width="1.0" />
<line x1="415.25" y1="496.10" x2="415.25" y2="486.10" stroke="#505050" stroke-width="1.0" />
<line x1="412.65" y1="486.10" x2="417.85" y2="486.10" stroke="#505050" stroke-width="1.0" />
<line x1="423.00" y1="490.50" x2="423.00" y2="476.50" stroke="#505050" stroke-width="1.0" />
<line x1="420.40" y1="476.50" x2="425.60" y2="476.50" stroke="#505050" stroke-width="1.0" />
<line x1="430.75" y1="505.10" x2="430.75" y2="495.40" stroke="#505050" stroke-width="1.0" />
<line x1="428.15" y1="495.40" x2="433.35" y2="495.40" stroke="#505050" stroke-width="1.0" />
<line x1="438.50" y1="496.10" x2="438.50" y2="482.80" stroke="#505050" stroke-width="1.0" />
<line x1="435.90" y1="482.80" x2="441.10" y2="482.80" stroke="#505050" stroke-width="1.0" />
<line x1="446.25" y1="508.00" x2="446.25" y2="503.00" stroke="#505050" stroke-width="1.0" />
<line x1="443.65" y1="503.00" x2="448.85" y2="503.00" stroke="#505050" stroke-width="1.0" />
<line x1="454.00" y1="499.20" x2="454.00" y2="494.00" stroke="#505050" stroke-width="1.0" />
<line x1="451.40" y1="494.00" x2="456.60" y2="494.00" stroke="#505050" stroke-width="1.0" />
<line x1="461.75" y1="509.60" x2="461.75" y2="505.00" stroke="#505050" stroke-width="1.0" />
<line x1="459.15" y1="505.00" x2="464.35" y2="505.00" stroke="#505050" stroke-width="1.0" />
<line x1="469.50" y1="510.60" x2="469.50" y2="502.30" stroke="#505050" stroke-width="1.0" />
<line x1="466.90" y1="502.30" x2="472.10" y2="502.30" stroke="#505050" stroke-width="1.0" />
<line x1="477.25" y1="495.00" x2="477.25" y2="478.40" stroke="#505050" stroke-width="1.0" />
<line x1="474.65" y1="478.40" x2="479.85" y2="478.40" stroke="#505050" stroke-width="1.0" />
<line x1="485.00" y1="497.10" x2="485.00" y2="481.50" stroke="#505050" stroke-width="1.0" />
<line x1="482.40" y1="481.50" x2="487.60" y2="481.50" stroke="#505050" stroke-width="1.0" />
<line x1="492.75" y1="512.30" x2="492.75" y2="505.70" stroke="#505050" stroke-width="1.0" />
<line x1="490.15" y1="505.70" x2="495.35" y2="505.70" stroke="#505050" stroke-width="1.0" />
<line x1="500.50" y1="508.00" x2="500.50" y2="503.00" stroke="#505050" stroke-width="1.0" />
<line x1="497.90" y1="503.00" x2="503.10" y2="503.00" stroke="#505050" stroke-width="1.0" />
<line x1="515.70" y1="504.90" x2="515.70" y2="495.90" stroke="#1a1a1a" stroke-width="1.3" />
<line x1="512.90" y1="495.90" x2="518.50" y2="495.90" stroke="#1a1a1a" stroke-width="1.3" />
<line x1="82.18" y1="504.50" x2="82.18" y2="496.20" stroke="#333" stroke-width="1.0" />
<line x1="79.58" y1="496.20" x2="84.78" y2="496.20" stroke="#333" stroke-width="1.0" />
<line x1="89.92" y1="502.40" x2="89.92" y2="492.00" stroke="#333" stroke-width="1.0" />
<line x1="87.32" y1="492.00" x2="92.52" y2="492.00" stroke="#333" stroke-width="1.0" />
<line x1="97.67" y1="508.00" x2="97.67" y2="502.80" stroke="#333" stroke-width="1.0" />
<line x1="95.07" y1="502.80" x2="100.27" y2="502.80" stroke="#333" stroke-width="1.0" />
<line x1="105.41" y1="505.00" x2="105.41" y2="495.50" stroke="#333" stroke-width="1.0" />
<line x1="102.81" y1="495.50" x2="108.01" y2="495.50" stroke="#333" stroke-width="1.0" />
<line x1="113.16" y1="496.70" x2="113.16" y2="486.70" stroke="#333" stroke-width="1.0" />
<line x1="110.56" y1="486.70" x2="115.75" y2="486.70" stroke="#333" stroke-width="1.0" />
<line x1="120.90" y1="495.30" x2="120.90" y2="482.40" stroke="#333" stroke-width="1.0" />
<line x1="118.30" y1="482.40" x2="123.50" y2="482.40" stroke="#333" stroke-width="1.0" />
<line x1="128.65" y1="501.00" x2="128.65" y2="491.20" stroke="#333" stroke-width="1.0" />
<line x1="126.05" y1="491.20" x2="131.25" y2="491.20" stroke="#333" stroke-width="1.0" />
<line x1="136.39" y1="498.40" x2="136.39" y2="489.40" stroke="#333" stroke-width="1.0" />
<line x1="133.79" y1="489.40" x2="138.99" y2="489.40" stroke="#333" stroke-width="1.0" />
<line x1="144.13" y1="501.60" x2="144.13" y2="495.30" stroke="#333" stroke-width="1.0" />
<line x1="141.53" y1="495.30" x2="146.73" y2="495.30" stroke="#333" stroke-width="1.0" />
<line x1="151.88" y1="503.10" x2="151.88" y2="496.40" stroke="#333" stroke-width="1.0" />
<line x1="149.28" y1="496.40" x2="154.48" y2="496.40" stroke="#333" stroke-width="1.0" />
<line x1="159.62" y1="504.00" x2="159.62" y2="497.00" stroke="#333" stroke-width="1.0" />
<line x1="157.03" y1="497.00" x2="162.22" y2="497.00" stroke="#333" stroke-width="1.0" />
<line x1="167.37" y1="500.20" x2="167.37" y2="490.70" stroke="#333" stroke-width="1.0" />
<line x1="164.77" y1="490.70" x2="169.97" y2="490.70" stroke="#333" stroke-width="1.0" />
<line x1="175.12" y1="478.50" x2="175.12" y2="460.00" stroke="#333" stroke-width="1.0" />
<line x1="172.52" y1="460.00" x2="177.72" y2="460.00" stroke="#333" stroke-width="1.0" />
<line x1="182.86" y1="477.30" x2="182.86" y2="460.40" stroke="#333" stroke-width="1.0" />
<line x1="180.26" y1="460.40" x2="185.46" y2="460.40" stroke="#333" stroke-width="1.0" />
<line x1="190.61" y1="491.50" x2="190.61" y2="479.80" stroke="#333" stroke-width="1.0" />
<line x1="188.01" y1="479.80" x2="193.21" y2="479.80" stroke="#333" stroke-width="1.0" />
<line x1="198.35" y1="486.70" x2="198.35" y2="472.10" stroke="#333" stroke-width="1.0" />
<line x1="195.75" y1="472.10" x2="200.95" y2="472.10" stroke="#333" stroke-width="1.0" />
<line x1="206.10" y1="481.10" x2="206.10" y2="465.60" stroke="#333" stroke-width="1.0" />
<line x1="203.50" y1="465.60" x2="208.70" y2="465.60" stroke="#333" stroke-width="1.0" />
<line x1="213.84" y1="479.60" x2="213.84" y2="464.20" stroke="#333" stroke-width="1.0" />
<line x1="211.24" y1="464.20" x2="216.44" y2="464.20" stroke="#333" stroke-width="1.0" />
<line x1="221.58" y1="461.20" x2="221.58" y2="438.00" stroke="#333" stroke-width="1.0" />
<line x1="218.98" y1="438.00" x2="224.18" y2="438.00" stroke="#333" stroke-width="1.0" />
<line x1="229.33" y1="486.90" x2="229.33" y2="472.10" stroke="#333" stroke-width="1.0" />
<line x1="226.73" y1="472.10" x2="231.93" y2="472.10" stroke="#333" stroke-width="1.0" />
<line x1="237.07" y1="481.10" x2="237.07" y2="467.30" stroke="#333" stroke-width="1.0" />
<line x1="234.47" y1="467.30" x2="239.67" y2="467.30" stroke="#333" stroke-width="1.0" />
<line x1="244.82" y1="476.50" x2="244.82" y2="465.20" stroke="#333" stroke-width="1.0" />
<line x1="242.22" y1="465.20" x2="247.42" y2="465.20" stroke="#333" stroke-width="1.0" />
<line x1="252.56" y1="456.00" x2="252.56" y2="439.00" stroke="#333" stroke-width="1.0" />
<line x1="249.97" y1="439.00" x2="255.16" y2="439.00" stroke="#333" stroke-width="1.0" />
<line x1="260.31" y1="440.40" x2="260.31" y2="419.60" stroke="#333" stroke-width="1.0" />
<line x1="257.71" y1="419.60" x2="262.91" y2="419.60" stroke="#333" stroke-width="1.0" />
<line x1="268.06" y1="463.80" x2="268.06" y2="446.30" stroke="#333" stroke-width="1.0" />
<line x1="265.45" y1="446.30" x2="270.66" y2="446.30" stroke="#333" stroke-width="1.0" />
<line x1="275.80" y1="447.70" x2="275.80" y2="427.40" stroke="#333" stroke-width="1.0" />
<line x1="273.20" y1="427.40" x2="278.40" y2="427.40" stroke="#333" stroke-width="1.0" />
<line x1="283.55" y1="422.00" x2="283.55" y2="389.70" stroke="#333" stroke-width="1.0" />
<line x1="280.94" y1="389.70" x2="286.15" y2="389.70" stroke="#333" stroke-width="1.0" />
<line x1="291.29" y1="439.90" x2="291.29" y2="418.30" stroke="#333" stroke-width="1.0" />
<line x1="288.69" y1="418.30" x2="293.89" y2="418.30" stroke="#333" stroke-width="1.0" />
<line x1="299.04" y1="375.50" x2="299.04" y2="342.00" stroke="#333" stroke-width="1.0" />
<line x1="296.44" y1="342.00" x2="301.64" y2="342.00" stroke="#333" stroke-width="1.0" />
<line x1="306.78" y1="394.00" x2="306.78" y2="362.80" stroke="#333" stroke-width="1.0" />
<line x1="304.18" y1="362.80" x2="309.38" y2="362.80" stroke="#333" stroke-width="1.0" />
<line x1="314.52" y1="387.10" x2="314.52" y2="357.20" stroke="#333" stroke-width="1.0" />
<line x1="311.92" y1="357.20" x2="317.12" y2="357.20" stroke="#333" stroke-width="1.0" />
<line x1="322.27" y1="384.10" x2="322.27" y2="362.10" stroke="#333" stroke-width="1.0" />
<line x1="319.67" y1="362.10" x2="324.87" y2="362.10" stroke="#333" stroke-width="1.0" />
<line x1="330.01" y1="374.60" x2="330.01" y2="342.40" stroke="#333" stroke-width="1.0" />
<line x1="327.41" y1="342.40" x2="332.62" y2="342.40" stroke="#333" stroke-width="1.0" />
<line x1="337.76" y1="414.30" x2="337.76" y2="384.10" stroke="#333" stroke-width="1.0" />
<line x1="335.16" y1="384.10" x2="340.36" y2="384.10" stroke="#333" stroke-width="1.0" />
<line x1="345.50" y1="400.20" x2="345.50" y2="366.80" stroke="#333" stroke-width="1.0" />
<line x1="342.90" y1="366.80" x2="348.11" y2="366.80" stroke="#333" stroke-width="1.0" />
<line x1="353.25" y1="388.40" x2="353.25" y2="346.00" stroke="#333" stroke-width="1.0" />
<line x1="350.65" y1="346.00" x2="355.85" y2="346.00" stroke="#333" stroke-width="1.0" />
<line x1="361.00" y1="362.80" x2="361.00" y2="317.20" stroke="#333" stroke-width="1.0" />
<line x1="358.39" y1="317.20" x2="363.60" y2="317.20" stroke="#333" stroke-width="1.0" />
<line x1="368.74" y1="378.90" x2="368.74" y2="341.00" stroke="#333" stroke-width="1.0" />
<line x1="366.14" y1="341.00" x2="371.34" y2="341.00" stroke="#333" stroke-width="1.0" />
<line x1="376.49" y1="354.90" x2="376.49" y2="302.10" stroke="#333" stroke-width="1.0" />
<line x1="373.88" y1="302.10" x2="379.09" y2="302.10" stroke="#333" stroke-width="1.0" />
<line x1="392.00" y1="398.90" x2="392.00" y2="370.70" stroke="#333" stroke-width="1.0" />
<line x1="389.40" y1="370.70" x2="394.60" y2="370.70" stroke="#333" stroke-width="1.0" />
<line x1="399.75" y1="422.30" x2="399.75" y2="393.20" stroke="#333" stroke-width="1.0" />
<line x1="397.15" y1="393.20" x2="402.35" y2="393.20" stroke="#333" stroke-width="1.0" />
<line x1="407.50" y1="463.70" x2="407.50" y2="445.40" stroke="#333" stroke-width="1.0" />
<line x1="404.90" y1="445.40" x2="410.10" y2="445.40" stroke="#333" stroke-width="1.0" />
<line x1="415.25" y1="455.10" x2="415.25" y2="436.30" stroke="#333" stroke-width="1.0" />
<line x1="412.65" y1="436.30" x2="417.85" y2="436.30" stroke="#333" stroke-width="1.0" />
<line x1="423.00" y1="451.90" x2="423.00" y2="433.40" stroke="#333" stroke-width="1.0" />
<line x1="420.40" y1="433.40" x2="425.60" y2="433.40" stroke="#333" stroke-width="1.0" />
<line x1="430.75" y1="451.90" x2="430.75" y2="431.30" stroke="#333" stroke-width="1.0" />
<line x1="428.15" y1="431.30" x2="433.35" y2="431.30" stroke="#333" stroke-width="1.0" />
<line x1="438.50" y1="473.80" x2="438.50" y2="460.40" stroke="#333" stroke-width="1.0" />
<line x1="435.90" y1="460.40" x2="441.10" y2="460.40" stroke="#333" stroke-width="1.0" />
<line x1="446.25" y1="499.20" x2="446.25" y2="493.00" stroke="#333" stroke-width="1.0" />
<line x1="443.65" y1="493.00" x2="448.85" y2="493.00" stroke="#333" stroke-width="1.0" />
<line x1="454.00" y1="491.70" x2="454.00" y2="484.60" stroke="#333" stroke-width="1.0" />
<line x1="451.40" y1="484.60" x2="456.60" y2="484.60" stroke="#333" stroke-width="1.0" />
<line x1="461.75" y1="500.30" x2="461.75" y2="489.30" stroke="#333" stroke-width="1.0" />
<line x1="459.15" y1="489.30" x2="464.35" y2="489.30" stroke="#333" stroke-width="1.0" />
<line x1="469.50" y1="491.60" x2="469.50" y2="479.40" stroke="#333" stroke-width="1.0" />
<line x1="466.90" y1="479.40" x2="472.10" y2="479.40" stroke="#333" stroke-width="1.0" />
<line x1="477.25" y1="504.90" x2="477.25" y2="498.00" stroke="#333" stroke-width="1.0" />
<line x1="474.65" y1="498.00" x2="479.85" y2="498.00" stroke="#333" stroke-width="1.0" />
<line x1="485.00" y1="496.20" x2="485.00" y2="477.20" stroke="#333" stroke-width="1.0" />
<line x1="482.40" y1="477.20" x2="487.60" y2="477.20" stroke="#333" stroke-width="1.0" />
<line x1="492.75" y1="499.30" x2="492.75" y2="491.60" stroke="#333" stroke-width="1.0" />
<line x1="490.15" y1="491.60" x2="495.35" y2="491.60" stroke="#333" stroke-width="1.0" />
<line x1="500.50" y1="503.70" x2="500.50" y2="495.00" stroke="#333" stroke-width="1.0" />
<line x1="497.90" y1="495.00" x2="503.10" y2="495.00" stroke="#333" stroke-width="1.0" />
<line x1="515.70" y1="415.70" x2="515.70" y2="389.40" stroke="#000" stroke-width="1.3" />
<line x1="512.80" y1="389.40" x2="518.60" y2="389.40" stroke="#000" stroke-width="1.3" />
<polyline points="43.45,515.40 51.20,516.30 58.94,517.10 66.69,514.00 74.43,512.00 82.18,515.40 89.92,505.70 97.67,510.00 105.41,504.80 113.16,507.10 120.90,511.10 128.65,512.30 136.39,512.60 144.13,514.90 151.88,514.00 159.62,510.60 167.37,518.00 175.12,514.00 182.86,513.70 190.61,512.30 198.35,511.80 206.10,516.60 213.84,504.50 221.58,508.00 229.33,509.30 237.07,510.60 244.82,511.40 252.56,505.90 260.31,506.70 268.06,506.20 275.80,503.30 283.55,499.00 291.29,502.00 299.04,497.80 306.78,492.10 314.52,492.10 322.27,487.50 330.01,463.70 337.76,493.20 345.50,495.90 353.25,487.50 361.00,485.80 368.74,469.60 376.49,488.90" fill="none" stroke="#000" stroke-width="1.05" stroke-linejoin="round" />
<polyline points="392.00,456.30 399.75,496.30 407.50,497.50 415.25,496.10 423.00,490.50 430.75,505.10 438.50,496.10 446.25,508.00 454.00,499.20 461.75,509.60 469.50,510.60 477.25,495.00 485.00,497.10 492.75,512.30 500.50,508.00" fill="none" stroke="#000" stroke-width="1.05" stroke-linejoin="round" />
<polyline points="43.45,512.60 51.20,515.40 58.94,517.80 66.69,514.40 74.43,512.00 82.18,504.50 89.92,502.40 97.67,508.00 105.41,505.00 113.16,496.70 120.90,495.30 128.65,501.00 136.39,498.40 144.13,501.60 151.88,503.10 159.62,504.00 167.37,500.20 175.12,478.50 182.86,477.30 190.61,491.50 198.35,486.70 206.10,481.10 213.84,479.60 221.58,461.20 229.33,486.90 237.07,481.10 244.82,476.50 252.56,456.00 260.31,440.40 268.06,463.80 275.80,447.70 283.55,422.00 291.29,439.90 299.04,375.50 306.78,394.00 314.52,387.10 322.27,384.10 330.01,374.60 337.76,414.30 345.50,400.20 353.25,388.40 361.00,362.80 368.74,378.90 376.49,354.90" fill="none" stroke="#000" stroke-width="1.15" stroke-linejoin="round" />
<polyline points="392.00,398.90 399.75,422.30 407.50,463.70 415.25,455.10 423.00,451.90 430.75,451.90 438.50,473.80 446.25,499.20 454.00,491.70 461.75,500.30 469.50,491.60 477.25,504.90 485.00,496.20 492.75,499.30 500.50,503.70" fill="none" stroke="#000" stroke-width="1.15" stroke-linejoin="round" />
<circle cx="43.45" cy="512.60" r="2.5" fill="#000" stroke="#000" stroke-width="0.9"/>
<circle cx="51.20" cy="515.40" r="2.5" fill="#000" stroke="#000" stroke-width="0.9"/>
<circle cx="58.94" cy="517.80" r="2.5" fill="#000" stroke="#000" stroke-width="0.9"/>
<circle cx="66.69" cy="514.40" r="2.5" fill="#000" stroke="#000" stroke-width="0.9"/>
<circle cx="74.43" cy="512.00" r="2.5" fill="#000" stroke="#000" stroke-width="0.9"/>
<circle cx="82.18" cy="504.50" r="2.5" fill="#000" stroke="#000" stroke-width="0.9"/>
<circle cx="89.92" cy="502.40" r="2.5" fill="#000" stroke="#000" stroke-width="0.9"/>
<circle cx="97.67" cy="508.00" r="2.5" fill="#000" stroke="#000" stroke-width="0.9"/>
<circle cx="105.41" cy="505.00" r="2.5" fill="#000" stroke="#000" stroke-width="0.9"/>
<circle cx="113.16" cy="496.70" r="2.5" fill="#000" stroke="#000" stroke-width="0.9"/>
<circle cx="120.90" cy="495.30" r="2.5" fill="#000" stroke="#000" stroke-width="0.9"/>
<circle cx="128.65" cy="501.00" r="2.5" fill="#000" stroke="#000" stroke-width="0.9"/>
<circle cx="136.39" cy="498.40" r="2.5" fill="#000" stroke="#000" stroke-width="0.9"/>
<circle cx="144.13" cy="501.60" r="2.5" fill="#000" stroke="#000" stroke-width="0.9"/>
<circle cx="151.88" cy="503.10" r="2.5" fill="#000" stroke="#000" stroke-width="0.9"/>
<circle cx="159.62" cy="504.00" r="2.5" fill="#000" stroke="#000" stroke-width="0.9"/>
<circle cx="167.37" cy="500.20" r="2.5" fill="#000" stroke="#000" stroke-width="0.9"/>
<circle cx="175.12" cy="478.50" r="2.5" fill="#000" stroke="#000" stroke-width="0.9"/>
<circle cx="182.86" cy="477.30" r="2.5" fill="#000" stroke="#000" stroke-width="0.9"/>
<circle cx="190.61" cy="491.50" r="2.5" fill="#000" stroke="#000" stroke-width="0.9"/>
<circle cx="198.35" cy="486.70" r="2.5" fill="#000" stroke="#000" stroke-width="0.9"/>
<circle cx="206.10" cy="481.10" r="2.5" fill="#000" stroke="#000" stroke-width="0.9"/>
<circle cx="213.84" cy="479.60" r="2.5" fill="#000" stroke="#000" stroke-width="0.9"/>
<circle cx="221.58" cy="461.20" r="2.5" fill="#000" stroke="#000" stroke-width="0.9"/>
<circle cx="229.33" cy="486.90" r="2.5" fill="#000" stroke="#000" stroke-width="0.9"/>
<circle cx="237.07" cy="481.10" r="2.5" fill="#000" stroke="#000" stroke-width="0.9"/>
<circle cx="244.82" cy="476.50" r="2.5" fill="#000" stroke="#000" stroke-width="0.9"/>
<circle cx="252.56" cy="456.00" r="2.5" fill="#000" stroke="#000" stroke-width="0.9"/>
<circle cx="260.31" cy="440.40" r="2.5" fill="#000" stroke="#000" stroke-width="0.9"/>
<circle cx="268.06" cy="463.80" r="2.5" fill="#000" stroke="#000" stroke-width="0.9"/>
<circle cx="275.80" cy="447.70" r="2.5" fill="#000" stroke="#000" stroke-width="0.9"/>
<circle cx="283.55" cy="422.00" r="2.5" fill="#000" stroke="#000" stroke-width="0.9"/>
<circle cx="291.29" cy="439.90" r="2.5" fill="#000" stroke="#000" stroke-width="0.9"/>
<circle cx="299.04" cy="375.50" r="2.5" fill="#000" stroke="#000" stroke-width="0.9"/>
<circle cx="306.78" cy="394.00" r="2.5" fill="#000" stroke="#000" stroke-width="0.9"/>
<circle cx="314.52" cy="387.10" r="2.5" fill="#000" stroke="#000" stroke-width="0.9"/>
<circle cx="322.27" cy="384.10" r="2.5" fill="#000" stroke="#000" stroke-width="0.9"/>
<circle cx="330.01" cy="374.60" r="2.5" fill="#000" stroke="#000" stroke-width="0.9"/>
<circle cx="337.76" cy="414.30" r="2.5" fill="#000" stroke="#000" stroke-width="0.9"/>
<circle cx="345.50" cy="400.20" r="2.5" fill="#000" stroke="#000" stroke-width="0.9"/>
<circle cx="353.25" cy="388.40" r="2.5" fill="#000" stroke="#000" stroke-width="0.9"/>
<circle cx="361.00" cy="362.80" r="2.5" fill="#000" stroke="#000" stroke-width="0.9"/>
<circle cx="368.74" cy="378.90" r="2.5" fill="#000" stroke="#000" stroke-width="0.9"/>
<circle cx="376.49" cy="354.90" r="2.5" fill="#000" stroke="#000" stroke-width="0.9"/>
<circle cx="392.00" cy="398.90" r="2.5" fill="#000" stroke="#000" stroke-width="0.9"/>
<circle cx="399.75" cy="422.30" r="2.5" fill="#000" stroke="#000" stroke-width="0.9"/>
<circle cx="407.50" cy="463.70" r="2.5" fill="#000" stroke="#000" stroke-width="0.9"/>
<circle cx="415.25" cy="455.10" r="2.5" fill="#000" stroke="#000" stroke-width="0.9"/>
<circle cx="423.00" cy="451.90" r="2.5" fill="#000" stroke="#000" stroke-width="0.9"/>
<circle cx="430.75" cy="451.90" r="2.5" fill="#000" stroke="#000" stroke-width="0.9"/>
<circle cx="438.50" cy="473.80" r="2.5" fill="#000" stroke="#000" stroke-width="0.9"/>
<circle cx="446.25" cy="499.20" r="2.5" fill="#000" stroke="#000" stroke-width="0.9"/>
<circle cx="454.00" cy="491.70" r="2.5" fill="#000" stroke="#000" stroke-width="0.9"/>
<circle cx="461.75" cy="500.30" r="2.5" fill="#000" stroke="#000" stroke-width="0.9"/>
<circle cx="469.50" cy="491.60" r="2.5" fill="#000" stroke="#000" stroke-width="0.9"/>
<circle cx="477.25" cy="504.90" r="2.5" fill="#000" stroke="#000" stroke-width="0.9"/>
<circle cx="485.00" cy="496.20" r="2.5" fill="#000" stroke="#000" stroke-width="0.9"/>
<circle cx="492.75" cy="499.30" r="2.5" fill="#000" stroke="#000" stroke-width="0.9"/>
<circle cx="500.50" cy="503.70" r="2.5" fill="#000" stroke="#000" stroke-width="0.9"/>
<circle cx="515.70" cy="415.70" r="2.5" fill="#000" stroke="#000" stroke-width="0.9"/>
<circle cx="43.45" cy="515.40" r="2.5" fill="#fff" stroke="#000" stroke-width="0.9"/>
<circle cx="51.20" cy="516.30" r="2.5" fill="#fff" stroke="#000" stroke-width="0.9"/>
<circle cx="58.94" cy="517.10" r="2.5" fill="#fff" stroke="#000" stroke-width="0.9"/>
<circle cx="66.69" cy="514.00" r="2.5" fill="#fff" stroke="#000" stroke-width="0.9"/>
<circle cx="74.43" cy="512.00" r="2.5" fill="#fff" stroke="#000" stroke-width="0.9"/>
<circle cx="82.18" cy="515.40" r="2.5" fill="#fff" stroke="#000" stroke-width="0.9"/>
<circle cx="89.92" cy="505.70" r="2.5" fill="#fff" stroke="#000" stroke-width="0.9"/>
<circle cx="97.67" cy="510.00" r="2.5" fill="#fff" stroke="#000" stroke-width="0.9"/>
<circle cx="105.41" cy="504.80" r="2.5" fill="#fff" stroke="#000" stroke-width="0.9"/>
<circle cx="113.16" cy="507.10" r="2.5" fill="#fff" stroke="#000" stroke-width="0.9"/>
<circle cx="120.90" cy="511.10" r="2.5" fill="#fff" stroke="#000" stroke-width="0.9"/>
<circle cx="128.65" cy="512.30" r="2.5" fill="#fff" stroke="#000" stroke-width="0.9"/>
<circle cx="136.39" cy="512.60" r="2.5" fill="#fff" stroke="#000" stroke-width="0.9"/>
<circle cx="144.13" cy="514.90" r="2.5" fill="#fff" stroke="#000" stroke-width="0.9"/>
<circle cx="151.88" cy="514.00" r="2.5" fill="#fff" stroke="#000" stroke-width="0.9"/>
<circle cx="159.62" cy="510.60" r="2.5" fill="#fff" stroke="#000" stroke-width="0.9"/>
<circle cx="167.37" cy="518.00" r="2.5" fill="#fff" stroke="#000" stroke-width="0.9"/>
<circle cx="175.12" cy="514.00" r="2.5" fill="#fff" stroke="#000" stroke-width="0.9"/>
<circle cx="182.86" cy="513.70" r="2.5" fill="#fff" stroke="#000" stroke-width="0.9"/>
<circle cx="190.61" cy="512.30" r="2.5" fill="#fff" stroke="#000" stroke-width="0.9"/>
<circle cx="198.35" cy="511.80" r="2.5" fill="#fff" stroke="#000" stroke-width="0.9"/>
<circle cx="206.10" cy="516.60" r="2.5" fill="#fff" stroke="#000" stroke-width="0.9"/>
<circle cx="213.84" cy="504.50" r="2.5" fill="#fff" stroke="#000" stroke-width="0.9"/>
<circle cx="221.58" cy="508.00" r="2.5" fill="#fff" stroke="#000" stroke-width="0.9"/>
<circle cx="229.33" cy="509.30" r="2.5" fill="#fff" stroke="#000" stroke-width="0.9"/>
<circle cx="237.07" cy="510.60" r="2.5" fill="#fff" stroke="#000" stroke-width="0.9"/>
<circle cx="244.82" cy="511.40" r="2.5" fill="#fff" stroke="#000" stroke-width="0.9"/>
<circle cx="252.56" cy="505.90" r="2.5" fill="#fff" stroke="#000" stroke-width="0.9"/>
<circle cx="260.31" cy="506.70" r="2.5" fill="#fff" stroke="#000" stroke-width="0.9"/>
<circle cx="268.06" cy="506.20" r="2.5" fill="#fff" stroke="#000" stroke-width="0.9"/>
<circle cx="275.80" cy="503.30" r="2.5" fill="#fff" stroke="#000" stroke-width="0.9"/>
<circle cx="283.55" cy="499.00" r="2.5" fill="#fff" stroke="#000" stroke-width="0.9"/>
<circle cx="291.29" cy="502.00" r="2.5" fill="#fff" stroke="#000" stroke-width="0.9"/>
<circle cx="299.04" cy="497.80" r="2.5" fill="#fff" stroke="#000" stroke-width="0.9"/>
<circle cx="306.78" cy="492.10" r="2.5" fill="#fff" stroke="#000" stroke-width="0.9"/>
<circle cx="314.52" cy="492.10" r="2.5" fill="#fff" stroke="#000" stroke-width="0.9"/>
<circle cx="322.27" cy="487.50" r="2.5" fill="#fff" stroke="#000" stroke-width="0.9"/>
<circle cx="330.01" cy="463.70" r="2.5" fill="#fff" stroke="#000" stroke-width="0.9"/>
<circle cx="337.76" cy="493.20" r="2.5" fill="#fff" stroke="#000" stroke-width="0.9"/>
<circle cx="345.50" cy="495.90" r="2.5" fill="#fff" stroke="#000" stroke-width="0.9"/>
<circle cx="353.25" cy="487.50" r="2.5" fill="#fff" stroke="#000" stroke-width="0.9"/>
<circle cx="361.00" cy="485.80" r="2.5" fill="#fff" stroke="#000" stroke-width="0.9"/>
<circle cx="368.74" cy="469.60" r="2.5" fill="#fff" stroke="#000" stroke-width="0.9"/>
<circle cx="376.49" cy="488.90" r="2.5" fill="#fff" stroke="#000" stroke-width="0.9"/>
<circle cx="392.00" cy="456.30" r="2.5" fill="#fff" stroke="#000" stroke-width="0.9"/>
<circle cx="399.75" cy="496.30" r="2.5" fill="#fff" stroke="#000" stroke-width="0.9"/>
<circle cx="407.50" cy="497.50" r="2.5" fill="#fff" stroke="#000" stroke-width="0.9"/>
<circle cx="415.25" cy="496.10" r="2.5" fill="#fff" stroke="#000" stroke-width="0.9"/>
<circle cx="423.00" cy="490.50" r="2.5" fill="#fff" stroke="#000" stroke-width="0.9"/>
<circle cx="430.75" cy="505.10" r="2.5" fill="#fff" stroke="#000" stroke-width="0.9"/>
<circle cx="438.50" cy="496.10" r="2.5" fill="#fff" stroke="#000" stroke-width="0.9"/>
<circle cx="446.25" cy="508.00" r="2.5" fill="#fff" stroke="#000" stroke-width="0.9"/>
<circle cx="454.00" cy="499.20" r="2.5" fill="#fff" stroke="#000" stroke-width="0.9"/>
<circle cx="461.75" cy="509.60" r="2.5" fill="#fff" stroke="#000" stroke-width="0.9"/>
<circle cx="469.50" cy="510.60" r="2.5" fill="#fff" stroke="#000" stroke-width="0.9"/>
<circle cx="477.25" cy="495.00" r="2.5" fill="#fff" stroke="#000" stroke-width="0.9"/>
<circle cx="485.00" cy="497.10" r="2.5" fill="#fff" stroke="#000" stroke-width="0.9"/>
<circle cx="492.75" cy="512.30" r="2.5" fill="#fff" stroke="#000" stroke-width="0.9"/>
<circle cx="500.50" cy="508.00" r="2.5" fill="#fff" stroke="#000" stroke-width="0.9"/>
<circle cx="515.70" cy="504.90" r="2.5" fill="#fff" stroke="#000" stroke-width="0.9"/>
<polyline points="43.45,511.00 51.20,512.00 58.94,519.00 66.69,518.00 74.43,517.50 82.18,518.50 89.92,517.00 97.67,516.50 105.41,516.50 113.16,516.00 120.90,514.50 128.65,513.50 136.39,516.50 144.13,518.50 151.88,517.50 159.62,515.00 167.37,519.00 175.12,517.00 182.86,518.00 190.61,517.00 198.35,517.50 206.10,515.50 213.84,515.00 221.58,515.00 229.33,517.50 237.07,515.00 244.82,518.50 252.56,517.50 260.31,518.50 268.06,519.00 275.80,519.50 283.55,513.50 291.29,516.50 299.04,517.50 306.78,516.50 314.52,516.50 322.27,515.00 330.01,513.00 337.76,518.00 345.50,518.00 353.25,518.50 361.00,518.00 368.74,516.50 376.49,519.50" fill="none" stroke="#000" stroke-width="1.05" stroke-linejoin="round" stroke-dasharray="2.6 1.3"/>
<polyline points="43.45,516.00 51.20,518.00 58.94,520.00 66.69,520.30 74.43,520.30 82.18,520.50 89.92,520.00 97.67,519.50 105.41,519.50 113.16,519.50 120.90,519.00 128.65,518.00 136.39,519.00 144.13,520.50 151.88,518.00 159.62,516.00 167.37,520.00 175.12,520.50 182.86,521.00 190.61,521.00 198.35,520.00 206.10,518.00 213.84,517.00 221.58,520.50 229.33,519.00 237.07,516.50 244.82,519.50 252.56,520.50 260.31,520.50 268.06,520.50 275.80,520.50 283.55,519.50 291.29,519.50 299.04,520.00 306.78,520.00 314.52,520.00 322.27,520.00 330.01,520.00 337.76,520.50 345.50,520.00 353.25,520.00 361.00,520.00 368.74,520.00 376.49,520.50" fill="none" stroke="#555" stroke-width="0.9" stroke-linejoin="round" stroke-dasharray="0.9 1.0"/>
<polyline points="392.00,501.90 399.75,508.00 407.50,505.00 415.25,508.00 423.00,503.70 430.75,505.00 438.50,512.50 446.25,516.00 454.00,517.70 461.75,516.80 469.50,517.50 477.25,518.50 485.00,514.00 492.75,518.00 500.50,514.00" fill="none" stroke="#000" stroke-width="1.05" stroke-linejoin="round" stroke-dasharray="2.6 1.3"/>
<polyline points="392.00,511.60 399.75,515.00 407.50,518.60 415.25,517.70 423.00,516.00 430.75,516.00 438.50,513.30 446.25,518.50 454.00,518.50 461.75,519.50 469.50,519.00 477.25,520.50 485.00,519.50 492.75,520.50 500.50,516.00" fill="none" stroke="#555" stroke-width="0.9" stroke-linejoin="round" stroke-dasharray="0.9 1.0"/>
<text transform="translate(260.61,421.45) scale(1.0,1)" font-size="11.5" font-weight="normal" text-anchor="middle" fill="#2a2a2a" stroke="#2a2a2a" stroke-width="0.25">*</text>
<text transform="translate(283.85,385.55) scale(1.0,1)" font-size="11.5" font-weight="normal" text-anchor="middle" fill="#2a2a2a" stroke="#2a2a2a" stroke-width="0.25">*</text>
<text transform="translate(283.85,391.45) scale(1.0,1)" font-size="11.5" font-weight="normal" text-anchor="middle" fill="#2a2a2a" stroke="#2a2a2a" stroke-width="0.25">*</text>
<text transform="translate(299.34,331.55) scale(1.0,1)" font-size="11.5" font-weight="normal" text-anchor="middle" fill="#2a2a2a" stroke="#2a2a2a" stroke-width="0.25">*</text>
<text transform="translate(299.34,337.15) scale(1.0,1)" font-size="11.5" font-weight="normal" text-anchor="middle" fill="#2a2a2a" stroke="#2a2a2a" stroke-width="0.25">*</text>
<text transform="translate(299.34,342.85) scale(1.0,1)" font-size="11.5" font-weight="normal" text-anchor="middle" fill="#2a2a2a" stroke="#2a2a2a" stroke-width="0.25">*</text>
<text transform="translate(307.08,351.85) scale(1.0,1)" font-size="11.5" font-weight="normal" text-anchor="middle" fill="#2a2a2a" stroke="#2a2a2a" stroke-width="0.25">*</text>
<text transform="translate(307.08,357.25) scale(1.0,1)" font-size="11.5" font-weight="normal" text-anchor="middle" fill="#2a2a2a" stroke="#2a2a2a" stroke-width="0.25">*</text>
<text transform="translate(307.08,362.75) scale(1.0,1)" font-size="11.5" font-weight="normal" text-anchor="middle" fill="#2a2a2a" stroke="#2a2a2a" stroke-width="0.25">*</text>
<text transform="translate(314.82,345.95) scale(1.0,1)" font-size="11.5" font-weight="normal" text-anchor="middle" fill="#2a2a2a" stroke="#2a2a2a" stroke-width="0.25">*</text>
<text transform="translate(314.82,351.45) scale(1.0,1)" font-size="11.5" font-weight="normal" text-anchor="middle" fill="#2a2a2a" stroke="#2a2a2a" stroke-width="0.25">*</text>
<text transform="translate(314.82,357.05) scale(1.0,1)" font-size="11.5" font-weight="normal" text-anchor="middle" fill="#2a2a2a" stroke="#2a2a2a" stroke-width="0.25">*</text>
<text transform="translate(322.57,351.85) scale(1.0,1)" font-size="11.5" font-weight="normal" text-anchor="middle" fill="#2a2a2a" stroke="#2a2a2a" stroke-width="0.25">*</text>
<text transform="translate(322.57,357.25) scale(1.0,1)" font-size="11.5" font-weight="normal" text-anchor="middle" fill="#2a2a2a" stroke="#2a2a2a" stroke-width="0.25">*</text>
<text transform="translate(322.57,362.75) scale(1.0,1)" font-size="11.5" font-weight="normal" text-anchor="middle" fill="#2a2a2a" stroke="#2a2a2a" stroke-width="0.25">*</text>
<text transform="translate(330.31,332.15) scale(1.0,1)" font-size="11.5" font-weight="normal" text-anchor="middle" fill="#2a2a2a" stroke="#2a2a2a" stroke-width="0.25">*</text>
<text transform="translate(330.31,337.65) scale(1.0,1)" font-size="11.5" font-weight="normal" text-anchor="middle" fill="#2a2a2a" stroke="#2a2a2a" stroke-width="0.25">*</text>
<text transform="translate(330.31,343.15) scale(1.0,1)" font-size="11.5" font-weight="normal" text-anchor="middle" fill="#2a2a2a" stroke="#2a2a2a" stroke-width="0.25">*</text>
<text transform="translate(338.06,378.65) scale(1.0,1)" font-size="11.5" font-weight="normal" text-anchor="middle" fill="#2a2a2a" stroke="#2a2a2a" stroke-width="0.25">*</text>
<text transform="translate(338.06,384.15) scale(1.0,1)" font-size="11.5" font-weight="normal" text-anchor="middle" fill="#2a2a2a" stroke="#2a2a2a" stroke-width="0.25">*</text>
<text transform="translate(345.81,356.15) scale(1.0,1)" font-size="11.5" font-weight="normal" text-anchor="middle" fill="#2a2a2a" stroke="#2a2a2a" stroke-width="0.25">*</text>
<text transform="translate(345.81,361.65) scale(1.0,1)" font-size="11.5" font-weight="normal" text-anchor="middle" fill="#2a2a2a" stroke="#2a2a2a" stroke-width="0.25">*</text>
<text transform="translate(345.81,367.35) scale(1.0,1)" font-size="11.5" font-weight="normal" text-anchor="middle" fill="#2a2a2a" stroke="#2a2a2a" stroke-width="0.25">*</text>
<text transform="translate(353.55,335.05) scale(1.0,1)" font-size="11.5" font-weight="normal" text-anchor="middle" fill="#2a2a2a" stroke="#2a2a2a" stroke-width="0.25">*</text>
<text transform="translate(353.55,340.55) scale(1.0,1)" font-size="11.5" font-weight="normal" text-anchor="middle" fill="#2a2a2a" stroke="#2a2a2a" stroke-width="0.25">*</text>
<text transform="translate(353.55,345.95) scale(1.0,1)" font-size="11.5" font-weight="normal" text-anchor="middle" fill="#2a2a2a" stroke="#2a2a2a" stroke-width="0.25">*</text>
<text transform="translate(361.30,307.35) scale(1.0,1)" font-size="11.5" font-weight="normal" text-anchor="middle" fill="#2a2a2a" stroke="#2a2a2a" stroke-width="0.25">*</text>
<text transform="translate(361.30,313.05) scale(1.0,1)" font-size="11.5" font-weight="normal" text-anchor="middle" fill="#2a2a2a" stroke="#2a2a2a" stroke-width="0.25">*</text>
<text transform="translate(361.30,318.65) scale(1.0,1)" font-size="11.5" font-weight="normal" text-anchor="middle" fill="#2a2a2a" stroke="#2a2a2a" stroke-width="0.25">*</text>
<text transform="translate(369.04,330.75) scale(1.0,1)" font-size="11.5" font-weight="normal" text-anchor="middle" fill="#2a2a2a" stroke="#2a2a2a" stroke-width="0.25">*</text>
<text transform="translate(369.04,336.45) scale(1.0,1)" font-size="11.5" font-weight="normal" text-anchor="middle" fill="#2a2a2a" stroke="#2a2a2a" stroke-width="0.25">*</text>
<text transform="translate(369.04,341.95) scale(1.0,1)" font-size="11.5" font-weight="normal" text-anchor="middle" fill="#2a2a2a" stroke="#2a2a2a" stroke-width="0.25">*</text>
<text transform="translate(376.79,292.35) scale(1.0,1)" font-size="11.5" font-weight="normal" text-anchor="middle" fill="#2a2a2a" stroke="#2a2a2a" stroke-width="0.25">*</text>
<text transform="translate(376.79,297.85) scale(1.0,1)" font-size="11.5" font-weight="normal" text-anchor="middle" fill="#2a2a2a" stroke="#2a2a2a" stroke-width="0.25">*</text>
<text transform="translate(376.79,303.55) scale(1.0,1)" font-size="11.5" font-weight="normal" text-anchor="middle" fill="#2a2a2a" stroke="#2a2a2a" stroke-width="0.25">*</text>
<text transform="translate(446.55,481.55) scale(1.0,1)" font-size="11.5" font-weight="normal" text-anchor="middle" fill="#2a2a2a" stroke="#2a2a2a" stroke-width="0.25">*</text>
<text transform="translate(446.55,487.25) scale(1.0,1)" font-size="11.5" font-weight="normal" text-anchor="middle" fill="#2a2a2a" stroke="#2a2a2a" stroke-width="0.25">*</text>
<text transform="translate(446.55,492.75) scale(1.0,1)" font-size="11.5" font-weight="normal" text-anchor="middle" fill="#2a2a2a" stroke="#2a2a2a" stroke-width="0.25">*</text>
<text transform="translate(454.30,485.85) scale(1.0,1)" font-size="11.5" font-weight="normal" text-anchor="middle" fill="#2a2a2a" stroke="#2a2a2a" stroke-width="0.25">*</text>
<text transform="translate(462.05,478.65) scale(1.0,1)" font-size="11.5" font-weight="normal" text-anchor="middle" fill="#2a2a2a" stroke="#2a2a2a" stroke-width="0.25">*</text>
<text transform="translate(462.05,484.65) scale(1.0,1)" font-size="11.5" font-weight="normal" text-anchor="middle" fill="#2a2a2a" stroke="#2a2a2a" stroke-width="0.25">*</text>
<text transform="translate(462.05,490.35) scale(1.0,1)" font-size="11.5" font-weight="normal" text-anchor="middle" fill="#2a2a2a" stroke="#2a2a2a" stroke-width="0.25">*</text>
<text transform="translate(469.80,473.95) scale(1.0,1)" font-size="11.5" font-weight="normal" text-anchor="middle" fill="#2a2a2a" stroke="#2a2a2a" stroke-width="0.25">*</text>
<text transform="translate(469.80,479.45) scale(1.0,1)" font-size="11.5" font-weight="normal" text-anchor="middle" fill="#2a2a2a" stroke="#2a2a2a" stroke-width="0.25">*</text>
<text transform="translate(477.55,514.75) scale(1.0,1)" font-size="11.5" font-weight="normal" text-anchor="middle" fill="#2a2a2a" stroke="#2a2a2a" stroke-width="0.25">*</text>
<text transform="translate(477.55,520.45) scale(1.0,1)" font-size="11.5" font-weight="normal" text-anchor="middle" fill="#2a2a2a" stroke="#2a2a2a" stroke-width="0.25">*</text>
<text transform="translate(477.55,526.15) scale(1.0,1)" font-size="11.5" font-weight="normal" text-anchor="middle" fill="#2a2a2a" stroke="#2a2a2a" stroke-width="0.25">*</text>
<text transform="translate(485.30,466.85) scale(1.0,1)" font-size="11.5" font-weight="normal" text-anchor="middle" fill="#2a2a2a" stroke="#2a2a2a" stroke-width="0.25">*</text>
<text transform="translate(485.30,472.55) scale(1.0,1)" font-size="11.5" font-weight="normal" text-anchor="middle" fill="#2a2a2a" stroke="#2a2a2a" stroke-width="0.25">*</text>
<text transform="translate(485.30,478.05) scale(1.0,1)" font-size="11.5" font-weight="normal" text-anchor="middle" fill="#2a2a2a" stroke="#2a2a2a" stroke-width="0.25">*</text>
<text transform="translate(493.05,482.05) scale(1.0,1)" font-size="11.5" font-weight="normal" text-anchor="middle" fill="#2a2a2a" stroke="#2a2a2a" stroke-width="0.25">*</text>
<text transform="translate(493.05,487.75) scale(1.0,1)" font-size="11.5" font-weight="normal" text-anchor="middle" fill="#2a2a2a" stroke="#2a2a2a" stroke-width="0.25">*</text>
<text transform="translate(493.05,493.35) scale(1.0,1)" font-size="11.5" font-weight="normal" text-anchor="middle" fill="#2a2a2a" stroke="#2a2a2a" stroke-width="0.25">*</text>
<text transform="translate(500.80,484.65) scale(1.0,1)" font-size="11.5" font-weight="normal" text-anchor="middle" fill="#2a2a2a" stroke="#2a2a2a" stroke-width="0.25">*</text>
<text transform="translate(500.80,490.35) scale(1.0,1)" font-size="11.5" font-weight="normal" text-anchor="middle" fill="#2a2a2a" stroke="#2a2a2a" stroke-width="0.25">*</text>
<text transform="translate(500.80,495.95) scale(1.0,1)" font-size="11.5" font-weight="normal" text-anchor="middle" fill="#2a2a2a" stroke="#2a2a2a" stroke-width="0.25">*</text>
<text transform="translate(299.00,483.10) scale(0.95,1)" font-size="7.6" font-weight="bold" text-anchor="middle" fill="#4a4a4a" >#</text>
<text transform="translate(376.60,464.20) scale(0.95,1)" font-size="7.6" font-weight="bold" text-anchor="middle" fill="#4a4a4a" >#</text>
<text transform="translate(516.20,489.00) scale(0.95,1)" font-size="7.6" font-weight="bold" text-anchor="middle" fill="#4a4a4a" >#</text>
<text transform="translate(516.20,493.00) scale(0.95,1)" font-size="7.6" font-weight="bold" text-anchor="middle" fill="#4a4a4a" >#</text>
<text transform="translate(515.50,381.80) scale(1.0,1)" font-size="11" font-weight="bold" text-anchor="middle" fill="#000" >+</text>
<text transform="translate(515.50,387.60) scale(1.0,1)" font-size="11" font-weight="bold" text-anchor="middle" fill="#000" >+</text>
<text transform="translate(175.40,430.70) scale(0.76,1)" font-size="8.5" font-weight="bold" text-anchor="middle" fill="#000" stroke="#000" stroke-width="0.25">FR-2</text>
<line x1="174.50" y1="431.50" x2="174.50" y2="451.00" stroke="#000" stroke-width="1.7" />
<polygon points="172.15,450.00 176.85,450.00 174.50,456.60" fill="#000"/>
<text transform="translate(251.90,412.40) scale(0.76,1)" font-size="8.5" font-weight="bold" text-anchor="middle" fill="#000" stroke="#000" stroke-width="0.25">FR-3</text>
<line x1="252.60" y1="412.90" x2="252.60" y2="431.90" stroke="#000" stroke-width="1.7" />
<polygon points="250.25,430.90 254.95,430.90 252.60,437.50" fill="#000"/>
<text transform="translate(300.60,304.60) scale(0.76,1)" font-size="8.5" font-weight="bold" text-anchor="middle" fill="#000" stroke="#000" stroke-width="0.25">FR-4</text>
<line x1="299.00" y1="305.50" x2="299.00" y2="318.40" stroke="#000" stroke-width="1.7" />
<polygon points="296.65,317.40 301.35,317.40 299.00,324.00" fill="#000"/>
<text transform="translate(344.30,322.60) scale(0.76,1)" font-size="8.5" font-weight="bold" text-anchor="middle" fill="#000" stroke="#000" stroke-width="0.25">FR-5</text>
<line x1="345.00" y1="323.10" x2="345.00" y2="341.30" stroke="#000" stroke-width="1.7" />
<polygon points="342.65,340.30 347.35,340.30 345.00,346.90" fill="#000"/>
<text transform="translate(53.60,492.40) scale(0.76,1)" font-size="8.5" font-weight="bold" text-anchor="middle" fill="#000" >FR-1</text>
<line x1="55.20" y1="493.50" x2="48.71" y2="503.73" stroke="#000" stroke-width="1.6" />
<polygon points="47.05,501.50 51.44,504.28 45.50,508.80" fill="#000"/>
<text transform="translate(471.20,351.30) scale(0.6894276760679531,1)" font-size="8.8" font-weight="bold" text-anchor="start" fill="#000" stroke="#000" stroke-width="0.2">Reinstatement</text>
<line x1="470.80" y1="355.00" x2="516.10" y2="355.00" stroke="#222" stroke-width="1.0" />
<line x1="515.50" y1="355.00" x2="515.50" y2="366.60" stroke="#000" stroke-width="1.3" />
<polygon points="513.15,365.60 517.85,365.60 515.50,372.20" fill="#000"/>
<line x1="84.00" y1="308.15" x2="108.80" y2="308.15" stroke="#222" stroke-width="1.25" />
<circle cx="97.20" cy="308.15" r="2.5" fill="#000" stroke="#000" stroke-width="0.9"/>
<text transform="translate(116.50,312.85) scale(0.79,1)" font-size="10" font-weight="normal" text-anchor="start" fill="#000" stroke="#000" stroke-width="0.6">LC</text>
<text transform="translate(127.00,315.25) scale(0.82,1)" font-size="6.6" font-weight="bold" text-anchor="start" fill="#000" >TIPS</text>
<text transform="translate(139.30,312.85) scale(0.8,1)" font-size="10" font-weight="normal" text-anchor="start" fill="#000" stroke="#000" stroke-width="0.6">,</text>
<text transform="translate(144.60,312.85) scale(0.8174386920980927,1)" font-size="10" font-weight="normal" text-anchor="start" fill="#000" stroke="#000" stroke-width="0.6">&#8216;active&#8217; nose-pokes</text>
<line x1="84.00" y1="325.60" x2="108.80" y2="325.60" stroke="#222" stroke-width="1.2" />
<circle cx="97.20" cy="325.60" r="2.5" fill="#fff" stroke="#000" stroke-width="0.9"/>
<text transform="translate(116.50,330.45) scale(0.715,1)" font-size="10" font-weight="normal" text-anchor="start" fill="#000" stroke="#000" stroke-width="0.6">HC</text>
<text transform="translate(127.22,332.85) scale(0.82,1)" font-size="6.6" font-weight="bold" text-anchor="start" fill="#000" >TIPS</text>
<text transform="translate(139.52,330.45) scale(0.8,1)" font-size="10" font-weight="normal" text-anchor="start" fill="#000" stroke="#000" stroke-width="0.6">,</text>
<text transform="translate(144.60,330.45) scale(0.8375784859613792,1)" font-size="10" font-weight="normal" text-anchor="start" fill="#000" stroke="#000" stroke-width="0.6">&#8216;active&#8217; nose-pokes</text>
<line x1="84.00" y1="343.30" x2="108.80" y2="343.30" stroke="#000" stroke-width="0.9" stroke-dasharray="2.2 1.2"/>
<text transform="translate(116.50,347.45) scale(0.79,1)" font-size="10" font-weight="normal" text-anchor="start" fill="#000" stroke="#000" stroke-width="0.6">LC</text>
<text transform="translate(127.00,349.85) scale(0.82,1)" font-size="6.6" font-weight="bold" text-anchor="start" fill="#000" >TIPS</text>
<text transform="translate(139.30,347.45) scale(0.8,1)" font-size="10" font-weight="normal" text-anchor="start" fill="#000" stroke="#000" stroke-width="0.6">,</text>
<text transform="translate(143.80,347.45) scale(0.824295010845987,1)" font-size="10" font-weight="normal" text-anchor="start" fill="#000" stroke="#000" stroke-width="0.6">&#8216;inactive&#8217; nose-pokes</text>
<line x1="84.00" y1="360.60" x2="108.80" y2="360.60" stroke="#555" stroke-width="0.9" stroke-dasharray="0.8 0.9"/>
<text transform="translate(116.50,364.75) scale(0.715,1)" font-size="10" font-weight="normal" text-anchor="start" fill="#000" stroke="#000" stroke-width="0.6">HC</text>
<text transform="translate(127.22,367.15) scale(0.82,1)" font-size="6.6" font-weight="bold" text-anchor="start" fill="#000" >TIPS</text>
<text transform="translate(139.52,364.75) scale(0.8,1)" font-size="10" font-weight="normal" text-anchor="start" fill="#000" stroke="#000" stroke-width="0.6">,</text>
<text transform="translate(143.80,364.75) scale(0.8351409978308025,1)" font-size="10" font-weight="normal" text-anchor="start" fill="#000" stroke="#000" stroke-width="0.6">&#8216;inactive&#8217; nose-pokes</text>
</svg></body></html>
